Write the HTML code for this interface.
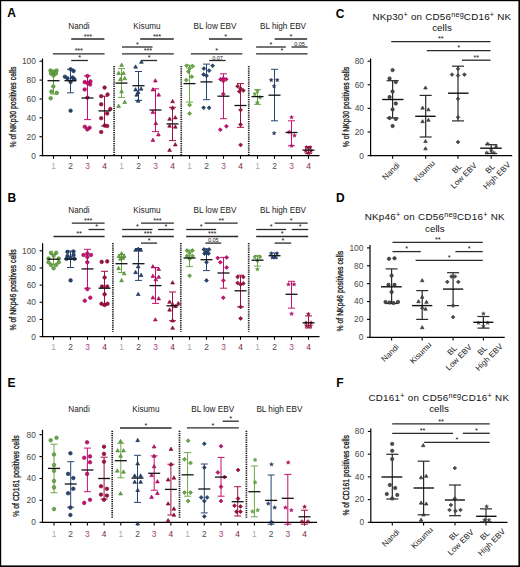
<!DOCTYPE html>
<html><head><meta charset="utf-8"><title>Figure</title>
<style>html,body{margin:0;padding:0;background:#fff;}body{width:520px;height:567px;overflow:hidden;font-family:"Liberation Sans",sans-serif;}svg{display:block;}</style>
</head><body>
<svg width="520" height="567" viewBox="0 0 520 567" font-family='"Liberation Sans", sans-serif'>
<rect x="0" y="0" width="520" height="567" fill="#fff"/>
<text x="11.65" y="17.1" font-size="12" text-anchor="middle" fill="#000" font-weight="bold">A</text>
<line x1="42.5" y1="58.5" x2="42.5" y2="156.2" stroke="#000" stroke-width="1.2"/>
<line x1="39.5" y1="155.6" x2="42.5" y2="155.6" stroke="#000" stroke-width="1.1"/>
<text x="35.9" y="158.5" font-size="8.4" text-anchor="end" fill="#4a4a4a">0</text>
<line x1="39.5" y1="136.72" x2="42.5" y2="136.72" stroke="#000" stroke-width="1.1"/>
<text x="35.9" y="139.62" font-size="8.4" text-anchor="end" fill="#4a4a4a">20</text>
<line x1="39.5" y1="117.84" x2="42.5" y2="117.84" stroke="#000" stroke-width="1.1"/>
<text x="35.9" y="120.74" font-size="8.4" text-anchor="end" fill="#4a4a4a">40</text>
<line x1="39.5" y1="98.96" x2="42.5" y2="98.96" stroke="#000" stroke-width="1.1"/>
<text x="35.9" y="101.86" font-size="8.4" text-anchor="end" fill="#4a4a4a">60</text>
<line x1="39.5" y1="80.08" x2="42.5" y2="80.08" stroke="#000" stroke-width="1.1"/>
<text x="35.9" y="82.98" font-size="8.4" text-anchor="end" fill="#4a4a4a">80</text>
<line x1="39.5" y1="61.2" x2="42.5" y2="61.2" stroke="#000" stroke-width="1.1"/>
<text x="35.9" y="64.1" font-size="8.4" text-anchor="end" fill="#4a4a4a">100</text>
<line x1="41.9" y1="155.6" x2="319.5" y2="155.6" stroke="#000" stroke-width="1.2"/>
<line x1="53.5" y1="155.6" x2="53.5" y2="158.8" stroke="#000" stroke-width="1.1"/>
<text x="53.5" y="169.4" font-size="8.4" text-anchor="middle" fill="#a8a8a8">1</text>
<line x1="70.5" y1="155.6" x2="70.5" y2="158.8" stroke="#000" stroke-width="1.1"/>
<text x="70.5" y="169.4" font-size="8.4" text-anchor="middle" fill="#4d4d55">2</text>
<line x1="87.5" y1="155.6" x2="87.5" y2="158.8" stroke="#000" stroke-width="1.1"/>
<text x="87.5" y="169.4" font-size="8.4" text-anchor="middle" fill="#a8457e">3</text>
<line x1="104.5" y1="155.6" x2="104.5" y2="158.8" stroke="#000" stroke-width="1.1"/>
<text x="104.5" y="169.4" font-size="8.4" text-anchor="middle" fill="#7e2442">4</text>
<line x1="121.5" y1="155.6" x2="121.5" y2="158.8" stroke="#000" stroke-width="1.1"/>
<text x="121.5" y="169.4" font-size="8.4" text-anchor="middle" fill="#a8a8a8">1</text>
<line x1="138.5" y1="155.6" x2="138.5" y2="158.8" stroke="#000" stroke-width="1.1"/>
<text x="138.5" y="169.4" font-size="8.4" text-anchor="middle" fill="#4d4d55">2</text>
<line x1="155.5" y1="155.6" x2="155.5" y2="158.8" stroke="#000" stroke-width="1.1"/>
<text x="155.5" y="169.4" font-size="8.4" text-anchor="middle" fill="#a8457e">3</text>
<line x1="172.5" y1="155.6" x2="172.5" y2="158.8" stroke="#000" stroke-width="1.1"/>
<text x="172.5" y="169.4" font-size="8.4" text-anchor="middle" fill="#7e2442">4</text>
<line x1="189.5" y1="155.6" x2="189.5" y2="158.8" stroke="#000" stroke-width="1.1"/>
<text x="189.5" y="169.4" font-size="8.4" text-anchor="middle" fill="#a8a8a8">1</text>
<line x1="206.5" y1="155.6" x2="206.5" y2="158.8" stroke="#000" stroke-width="1.1"/>
<text x="206.5" y="169.4" font-size="8.4" text-anchor="middle" fill="#4d4d55">2</text>
<line x1="223.5" y1="155.6" x2="223.5" y2="158.8" stroke="#000" stroke-width="1.1"/>
<text x="223.5" y="169.4" font-size="8.4" text-anchor="middle" fill="#a8457e">3</text>
<line x1="240.5" y1="155.6" x2="240.5" y2="158.8" stroke="#000" stroke-width="1.1"/>
<text x="240.5" y="169.4" font-size="8.4" text-anchor="middle" fill="#7e2442">4</text>
<line x1="257.5" y1="155.6" x2="257.5" y2="158.8" stroke="#000" stroke-width="1.1"/>
<text x="257.5" y="169.4" font-size="8.4" text-anchor="middle" fill="#a8a8a8">1</text>
<line x1="274.5" y1="155.6" x2="274.5" y2="158.8" stroke="#000" stroke-width="1.1"/>
<text x="274.5" y="169.4" font-size="8.4" text-anchor="middle" fill="#4d4d55">2</text>
<line x1="291.5" y1="155.6" x2="291.5" y2="158.8" stroke="#000" stroke-width="1.1"/>
<text x="291.5" y="169.4" font-size="8.4" text-anchor="middle" fill="#a8457e">3</text>
<line x1="308.5" y1="155.6" x2="308.5" y2="158.8" stroke="#000" stroke-width="1.1"/>
<text x="308.5" y="169.4" font-size="8.4" text-anchor="middle" fill="#7e2442">4</text>
<line x1="114.1" y1="66" x2="114.1" y2="155.2" stroke="#1a1a1a" stroke-width="1.7" stroke-dasharray="1.25,0.95"/>
<line x1="181.25" y1="66" x2="181.25" y2="155.2" stroke="#1a1a1a" stroke-width="1.7" stroke-dasharray="1.25,0.95"/>
<line x1="248.75" y1="66" x2="248.75" y2="155.2" stroke="#1a1a1a" stroke-width="1.7" stroke-dasharray="1.25,0.95"/>
<text x="79" y="28.7" font-size="8.2" text-anchor="middle" fill="#222">Nandi</text>
<text x="147" y="28.7" font-size="8.2" text-anchor="middle" fill="#222">Kisumu</text>
<text x="215" y="28.7" font-size="8.2" text-anchor="middle" fill="#222">BL low EBV</text>
<text x="283" y="28.7" font-size="8.2" text-anchor="middle" fill="#222">BL high EBV</text>
<text x="15.7" y="107.05" font-size="8.9" text-anchor="middle" fill="#1a1a1a" transform="rotate(-90 15.7 107.05)" textLength="81" lengthAdjust="spacingAndGlyphs" stroke="#1a1a1a" stroke-width="0.3">% of NKp30 positives cells</text>
<line x1="71.2" y1="39" x2="104.4" y2="39" stroke="#2a2a2a" stroke-width="1.3"/>
<text x="87.8" y="38.6" font-size="7.3" text-anchor="middle" fill="#111" letter-spacing="-0.1">***</text>
<line x1="52.9" y1="53.8" x2="104.6" y2="53.8" stroke="#2a2a2a" stroke-width="1.3"/>
<text x="78.75" y="53.4" font-size="7.3" text-anchor="middle" fill="#111" letter-spacing="-0.1">***</text>
<line x1="71.2" y1="60.5" x2="87.9" y2="60.5" stroke="#2a2a2a" stroke-width="1.3"/>
<text x="79.55" y="60.1" font-size="7.3" text-anchor="middle" fill="#111" letter-spacing="-0.1">*</text>
<line x1="140.2" y1="39" x2="173.8" y2="39" stroke="#2a2a2a" stroke-width="1.3"/>
<text x="157" y="38.6" font-size="7.3" text-anchor="middle" fill="#111" letter-spacing="-0.1">***</text>
<line x1="122" y1="47" x2="152.5" y2="47" stroke="#2a2a2a" stroke-width="1.3"/>
<text x="137.25" y="46.6" font-size="7.3" text-anchor="middle" fill="#111" letter-spacing="-0.1">*</text>
<line x1="122" y1="53.8" x2="173.8" y2="53.8" stroke="#2a2a2a" stroke-width="1.3"/>
<text x="147.9" y="53.4" font-size="7.3" text-anchor="middle" fill="#111" letter-spacing="-0.1">***</text>
<line x1="141" y1="60.5" x2="157" y2="60.5" stroke="#2a2a2a" stroke-width="1.3"/>
<text x="149" y="60.1" font-size="7.3" text-anchor="middle" fill="#111" letter-spacing="-0.1">*</text>
<line x1="209" y1="39" x2="242.3" y2="39" stroke="#2a2a2a" stroke-width="1.3"/>
<text x="225.65" y="38.6" font-size="7.3" text-anchor="middle" fill="#111" letter-spacing="-0.1">*</text>
<line x1="190.9" y1="53.8" x2="242.3" y2="53.8" stroke="#2a2a2a" stroke-width="1.3"/>
<text x="216.6" y="53.4" font-size="7.3" text-anchor="middle" fill="#111" letter-spacing="-0.1">*</text>
<line x1="209.3" y1="60.5" x2="225.7" y2="60.5" stroke="#2a2a2a" stroke-width="1.3"/>
<text x="217.5" y="59.5" font-size="5.6" text-anchor="middle" fill="#222" letter-spacing="-0.1">0.07</text>
<line x1="274.7" y1="39" x2="307.1" y2="39" stroke="#2a2a2a" stroke-width="1.3"/>
<text x="290.9" y="38.6" font-size="7.3" text-anchor="middle" fill="#111" letter-spacing="-0.1">*</text>
<line x1="256.1" y1="47" x2="285.8" y2="47" stroke="#2a2a2a" stroke-width="1.3"/>
<text x="270.95" y="46.6" font-size="7.3" text-anchor="middle" fill="#111" letter-spacing="-0.1">*</text>
<line x1="291.5" y1="47" x2="307.6" y2="47" stroke="#2a2a2a" stroke-width="1.3"/>
<text x="299.55" y="46" font-size="5.6" text-anchor="middle" fill="#222" letter-spacing="-0.1">0.05</text>
<line x1="256.1" y1="53.8" x2="307.6" y2="53.8" stroke="#2a2a2a" stroke-width="1.3"/>
<text x="281.85" y="53.4" font-size="7.3" text-anchor="middle" fill="#111" letter-spacing="-0.1">*</text>
<line x1="53.5" y1="70.6" x2="53.5" y2="94" stroke="#6ca846" stroke-width="1"/>
<line x1="50" y1="70.6" x2="57" y2="70.6" stroke="#6ca846" stroke-width="1"/>
<line x1="50" y1="94" x2="57" y2="94" stroke="#6ca846" stroke-width="1"/>
<circle cx="50.5" cy="70.5" r="1.8" fill="#6ca846" stroke="#437e2c" stroke-width="0.6"/>
<circle cx="56.5" cy="70.5" r="1.8" fill="#6ca846" stroke="#437e2c" stroke-width="0.6"/>
<circle cx="53.5" cy="71.5" r="1.8" fill="#6ca846" stroke="#437e2c" stroke-width="0.6"/>
<circle cx="51" cy="73.5" r="1.8" fill="#6ca846" stroke="#437e2c" stroke-width="0.6"/>
<circle cx="56" cy="73.5" r="1.8" fill="#6ca846" stroke="#437e2c" stroke-width="0.6"/>
<circle cx="53.5" cy="75.5" r="1.8" fill="#6ca846" stroke="#437e2c" stroke-width="0.6"/>
<circle cx="53.3" cy="86.5" r="1.8" fill="#6ca846" stroke="#437e2c" stroke-width="0.6"/>
<circle cx="51.4" cy="91.6" r="1.8" fill="#6ca846" stroke="#437e2c" stroke-width="0.6"/>
<circle cx="56.8" cy="92.9" r="1.8" fill="#6ca846" stroke="#437e2c" stroke-width="0.6"/>
<circle cx="50.7" cy="98.3" r="1.8" fill="#6ca846" stroke="#437e2c" stroke-width="0.6"/>
<line x1="47.5" y1="80.7" x2="59.5" y2="80.7" stroke="#111" stroke-width="1.3"/>
<line x1="70.5" y1="69.3" x2="70.5" y2="92.8" stroke="#284670" stroke-width="1"/>
<line x1="67" y1="69.3" x2="74" y2="69.3" stroke="#284670" stroke-width="1"/>
<line x1="67" y1="92.8" x2="74" y2="92.8" stroke="#284670" stroke-width="1"/>
<circle cx="70.6" cy="69.3" r="1.8" fill="#284670" stroke="#16284a" stroke-width="0.6"/>
<circle cx="73.6" cy="71" r="1.8" fill="#284670" stroke="#16284a" stroke-width="0.6"/>
<circle cx="64.9" cy="76.7" r="1.8" fill="#284670" stroke="#16284a" stroke-width="0.6"/>
<circle cx="67.5" cy="78.4" r="1.8" fill="#284670" stroke="#16284a" stroke-width="0.6"/>
<circle cx="72.7" cy="77.6" r="1.8" fill="#284670" stroke="#16284a" stroke-width="0.6"/>
<circle cx="74.4" cy="79.3" r="1.8" fill="#284670" stroke="#16284a" stroke-width="0.6"/>
<circle cx="70.6" cy="81.9" r="1.8" fill="#284670" stroke="#16284a" stroke-width="0.6"/>
<circle cx="70.6" cy="110.7" r="1.8" fill="#284670" stroke="#16284a" stroke-width="0.6"/>
<line x1="64.5" y1="80.7" x2="76.5" y2="80.7" stroke="#111" stroke-width="1.3"/>
<line x1="87.5" y1="75.8" x2="87.5" y2="119.6" stroke="#c90f70" stroke-width="1"/>
<line x1="84" y1="75.8" x2="91" y2="75.8" stroke="#c90f70" stroke-width="1"/>
<line x1="84" y1="119.6" x2="91" y2="119.6" stroke="#c90f70" stroke-width="1"/>
<circle cx="87.4" cy="76" r="1.8" fill="#c90f70" stroke="#8f0a50" stroke-width="0.6"/>
<circle cx="84.7" cy="82.1" r="1.8" fill="#c90f70" stroke="#8f0a50" stroke-width="0.6"/>
<circle cx="90.4" cy="81.4" r="1.8" fill="#c90f70" stroke="#8f0a50" stroke-width="0.6"/>
<circle cx="90.1" cy="84.5" r="1.8" fill="#c90f70" stroke="#8f0a50" stroke-width="0.6"/>
<circle cx="87.4" cy="83.1" r="1.8" fill="#c90f70" stroke="#8f0a50" stroke-width="0.6"/>
<circle cx="84.7" cy="89.5" r="1.8" fill="#c90f70" stroke="#8f0a50" stroke-width="0.6"/>
<circle cx="87.4" cy="97.6" r="1.8" fill="#c90f70" stroke="#8f0a50" stroke-width="0.6"/>
<circle cx="84.8" cy="126.8" r="1.8" fill="#c90f70" stroke="#8f0a50" stroke-width="0.6"/>
<circle cx="89.6" cy="127.7" r="1.8" fill="#c90f70" stroke="#8f0a50" stroke-width="0.6"/>
<circle cx="87.3" cy="129.4" r="1.8" fill="#c90f70" stroke="#8f0a50" stroke-width="0.6"/>
<line x1="81.5" y1="98" x2="93.5" y2="98" stroke="#111" stroke-width="1.3"/>
<line x1="104.5" y1="96.2" x2="104.5" y2="126" stroke="#a3103c" stroke-width="1"/>
<line x1="101" y1="96.2" x2="108" y2="96.2" stroke="#a3103c" stroke-width="1"/>
<line x1="101" y1="126" x2="108" y2="126" stroke="#a3103c" stroke-width="1"/>
<circle cx="104.6" cy="87.6" r="1.8" fill="#a3103c" stroke="#700a2a" stroke-width="0.6"/>
<circle cx="101.2" cy="96.2" r="1.8" fill="#a3103c" stroke="#700a2a" stroke-width="0.6"/>
<circle cx="107.6" cy="94.5" r="1.8" fill="#a3103c" stroke="#700a2a" stroke-width="0.6"/>
<circle cx="101.2" cy="104.3" r="1.8" fill="#a3103c" stroke="#700a2a" stroke-width="0.6"/>
<circle cx="110.3" cy="109" r="1.8" fill="#a3103c" stroke="#700a2a" stroke-width="0.6"/>
<circle cx="107.2" cy="113.5" r="1.8" fill="#a3103c" stroke="#700a2a" stroke-width="0.6"/>
<circle cx="101.2" cy="118.2" r="1.8" fill="#a3103c" stroke="#700a2a" stroke-width="0.6"/>
<circle cx="104.6" cy="125.6" r="1.8" fill="#a3103c" stroke="#700a2a" stroke-width="0.6"/>
<circle cx="107.2" cy="126" r="1.8" fill="#a3103c" stroke="#700a2a" stroke-width="0.6"/>
<circle cx="101.2" cy="132" r="1.8" fill="#a3103c" stroke="#700a2a" stroke-width="0.6"/>
<line x1="98.5" y1="110.9" x2="110.5" y2="110.9" stroke="#111" stroke-width="1.3"/>
<line x1="121.5" y1="68.6" x2="121.5" y2="97.4" stroke="#6ca846" stroke-width="1"/>
<line x1="118" y1="68.6" x2="125" y2="68.6" stroke="#6ca846" stroke-width="1"/>
<line x1="118" y1="97.4" x2="125" y2="97.4" stroke="#6ca846" stroke-width="1"/>
<polygon points="121.6,63.1 119.71,66.43 123.49,66.43" fill="#6ca846" stroke="#437e2c" stroke-width="0.6"/>
<polygon points="118.6,71.2 116.71,74.53 120.49,74.53" fill="#6ca846" stroke="#437e2c" stroke-width="0.6"/>
<polygon points="123.5,71.2 121.61,74.53 125.39,74.53" fill="#6ca846" stroke="#437e2c" stroke-width="0.6"/>
<polygon points="124.7,76.4 122.81,79.73 126.59,79.73" fill="#6ca846" stroke="#437e2c" stroke-width="0.6"/>
<polygon points="120.4,77.3 118.51,80.63 122.29,80.63" fill="#6ca846" stroke="#437e2c" stroke-width="0.6"/>
<polygon points="121.6,89.4 119.71,92.73 123.49,92.73" fill="#6ca846" stroke="#437e2c" stroke-width="0.6"/>
<polygon points="124.7,100.1 122.81,103.43 126.59,103.43" fill="#6ca846" stroke="#437e2c" stroke-width="0.6"/>
<polygon points="118.6,104.1 116.71,107.43 120.49,107.43" fill="#6ca846" stroke="#437e2c" stroke-width="0.6"/>
<line x1="115.5" y1="83.1" x2="127.5" y2="83.1" stroke="#111" stroke-width="1.3"/>
<line x1="138.5" y1="71.5" x2="138.5" y2="100.4" stroke="#284670" stroke-width="1"/>
<line x1="135" y1="71.5" x2="142" y2="71.5" stroke="#284670" stroke-width="1"/>
<line x1="135" y1="100.4" x2="142" y2="100.4" stroke="#284670" stroke-width="1"/>
<polygon points="135.6,64.8 133.71,68.13 137.49,68.13" fill="#284670" stroke="#16284a" stroke-width="0.6"/>
<polygon points="141.4,60 139.51,63.33 143.29,63.33" fill="#284670" stroke="#16284a" stroke-width="0.6"/>
<polygon points="135.6,87.6 133.71,90.93 137.49,90.93" fill="#284670" stroke="#16284a" stroke-width="0.6"/>
<polygon points="141.1,86.8 139.21,90.13 142.99,90.13" fill="#284670" stroke="#16284a" stroke-width="0.6"/>
<polygon points="138.2,90.2 136.31,93.53 140.09,93.53" fill="#284670" stroke="#16284a" stroke-width="0.6"/>
<polygon points="136.8,92.8 134.91,96.13 138.69,96.13" fill="#284670" stroke="#16284a" stroke-width="0.6"/>
<polygon points="138.2,98.9 136.31,102.23 140.09,102.23" fill="#284670" stroke="#16284a" stroke-width="0.6"/>
<line x1="132.5" y1="85.7" x2="144.5" y2="85.7" stroke="#111" stroke-width="1.3"/>
<line x1="155.5" y1="88.8" x2="155.5" y2="131.6" stroke="#c90f70" stroke-width="1"/>
<line x1="152" y1="88.8" x2="159" y2="88.8" stroke="#c90f70" stroke-width="1"/>
<line x1="152" y1="131.6" x2="159" y2="131.6" stroke="#c90f70" stroke-width="1"/>
<polygon points="155.3,78.7 153.41,82.03 157.19,82.03" fill="#c90f70" stroke="#8f0a50" stroke-width="0.6"/>
<polygon points="152.9,87.6 151.01,90.93 154.79,90.93" fill="#c90f70" stroke="#8f0a50" stroke-width="0.6"/>
<polygon points="158.7,92.8 156.81,96.13 160.59,96.13" fill="#c90f70" stroke="#8f0a50" stroke-width="0.6"/>
<polygon points="152.9,110.1 151.01,113.43 154.79,113.43" fill="#c90f70" stroke="#8f0a50" stroke-width="0.6"/>
<polygon points="155.8,121.3 153.91,124.63 157.69,124.63" fill="#c90f70" stroke="#8f0a50" stroke-width="0.6"/>
<polygon points="158.4,132.6 156.51,135.93 160.29,135.93" fill="#c90f70" stroke="#8f0a50" stroke-width="0.6"/>
<polygon points="152.9,138.1 151.01,141.43 154.79,141.43" fill="#c90f70" stroke="#8f0a50" stroke-width="0.6"/>
<line x1="149.5" y1="110" x2="161.5" y2="110" stroke="#111" stroke-width="1.3"/>
<line x1="172.5" y1="107.3" x2="172.5" y2="140.6" stroke="#a3103c" stroke-width="1"/>
<line x1="169" y1="107.3" x2="176" y2="107.3" stroke="#a3103c" stroke-width="1"/>
<line x1="169" y1="140.6" x2="176" y2="140.6" stroke="#a3103c" stroke-width="1"/>
<polygon points="172.6,99.4 170.71,102.73 174.49,102.73" fill="#a3103c" stroke="#700a2a" stroke-width="0.6"/>
<polygon points="172.6,105.8 170.71,109.13 174.49,109.13" fill="#a3103c" stroke="#700a2a" stroke-width="0.6"/>
<polygon points="169.6,117 167.71,120.33 171.49,120.33" fill="#a3103c" stroke="#700a2a" stroke-width="0.6"/>
<polygon points="175.3,115.6 173.41,118.93 177.19,118.93" fill="#a3103c" stroke="#700a2a" stroke-width="0.6"/>
<polygon points="169.6,123.9 167.71,127.23 171.49,127.23" fill="#a3103c" stroke="#700a2a" stroke-width="0.6"/>
<polygon points="175.3,124.8 173.41,128.13 177.19,128.13" fill="#a3103c" stroke="#700a2a" stroke-width="0.6"/>
<polygon points="175.3,142.6 173.41,145.93 177.19,145.93" fill="#a3103c" stroke="#700a2a" stroke-width="0.6"/>
<polygon points="169.6,148.1 167.71,151.43 171.49,151.43" fill="#a3103c" stroke="#700a2a" stroke-width="0.6"/>
<line x1="166.5" y1="123.9" x2="178.5" y2="123.9" stroke="#111" stroke-width="1.3"/>
<line x1="189.5" y1="65.1" x2="189.5" y2="102.1" stroke="#6ca846" stroke-width="1"/>
<line x1="186" y1="65.1" x2="193" y2="65.1" stroke="#6ca846" stroke-width="1"/>
<line x1="186" y1="102.1" x2="193" y2="102.1" stroke="#6ca846" stroke-width="1"/>
<polygon points="186.6,63.82 188.58,65.8 186.6,67.78 184.62,65.8" fill="#6ca846" stroke="#437e2c" stroke-width="0.6"/>
<polygon points="192.7,64.32 194.68,66.3 192.7,68.28 190.72,66.3" fill="#6ca846" stroke="#437e2c" stroke-width="0.6"/>
<polygon points="189.6,66.52 191.58,68.5 189.6,70.48 187.62,68.5" fill="#6ca846" stroke="#437e2c" stroke-width="0.6"/>
<polygon points="188.4,69.52 190.38,71.5 188.4,73.48 186.42,71.5" fill="#6ca846" stroke="#437e2c" stroke-width="0.6"/>
<polygon points="191.8,74.72 193.78,76.7 191.8,78.68 189.82,76.7" fill="#6ca846" stroke="#437e2c" stroke-width="0.6"/>
<polygon points="186.3,78.12 188.28,80.1 186.3,82.08 184.32,80.1" fill="#6ca846" stroke="#437e2c" stroke-width="0.6"/>
<polygon points="189.6,102.92 191.58,104.9 189.6,106.88 187.62,104.9" fill="#6ca846" stroke="#437e2c" stroke-width="0.6"/>
<polygon points="189.6,111.52 191.58,113.5 189.6,115.48 187.62,113.5" fill="#6ca846" stroke="#437e2c" stroke-width="0.6"/>
<line x1="183.5" y1="83.6" x2="195.5" y2="83.6" stroke="#111" stroke-width="1.3"/>
<line x1="206.5" y1="64.1" x2="206.5" y2="99.7" stroke="#284670" stroke-width="1"/>
<line x1="203" y1="64.1" x2="210" y2="64.1" stroke="#284670" stroke-width="1"/>
<line x1="203" y1="99.7" x2="210" y2="99.7" stroke="#284670" stroke-width="1"/>
<polygon points="203.9,66.62 205.88,68.6 203.9,70.58 201.92,68.6" fill="#284670" stroke="#16284a" stroke-width="0.6"/>
<polygon points="212.6,63.82 214.58,65.8 212.6,67.78 210.62,65.8" fill="#284670" stroke="#16284a" stroke-width="0.6"/>
<polygon points="209.1,68.62 211.08,70.6 209.1,72.58 207.12,70.6" fill="#284670" stroke="#16284a" stroke-width="0.6"/>
<polygon points="203.6,72.42 205.58,74.4 203.6,76.38 201.62,74.4" fill="#284670" stroke="#16284a" stroke-width="0.6"/>
<polygon points="206.5,73.82 208.48,75.8 206.5,77.78 204.52,75.8" fill="#284670" stroke="#16284a" stroke-width="0.6"/>
<polygon points="203.6,105.82 205.58,107.8 203.6,109.78 201.62,107.8" fill="#284670" stroke="#16284a" stroke-width="0.6"/>
<polygon points="209.1,105.82 211.08,107.8 209.1,109.78 207.12,107.8" fill="#284670" stroke="#16284a" stroke-width="0.6"/>
<line x1="200.5" y1="81.9" x2="212.5" y2="81.9" stroke="#111" stroke-width="1.3"/>
<line x1="223.5" y1="73.8" x2="223.5" y2="118.7" stroke="#c90f70" stroke-width="1"/>
<line x1="220" y1="73.8" x2="227" y2="73.8" stroke="#c90f70" stroke-width="1"/>
<line x1="220" y1="118.7" x2="227" y2="118.7" stroke="#c90f70" stroke-width="1"/>
<polygon points="220.5,77.32 222.48,79.3 220.5,81.28 218.52,79.3" fill="#c90f70" stroke="#8f0a50" stroke-width="0.6"/>
<polygon points="223.3,79.02 225.28,81 223.3,82.98 221.32,81" fill="#c90f70" stroke="#8f0a50" stroke-width="0.6"/>
<polygon points="226.2,77.32 228.18,79.3 226.2,81.28 224.22,79.3" fill="#c90f70" stroke="#8f0a50" stroke-width="0.6"/>
<polygon points="223.3,76.42 225.28,78.4 223.3,80.38 221.32,78.4" fill="#c90f70" stroke="#8f0a50" stroke-width="0.6"/>
<polygon points="223.3,92.02 225.28,94 223.3,95.98 221.32,94" fill="#c90f70" stroke="#8f0a50" stroke-width="0.6"/>
<polygon points="220.3,127.72 222.28,129.7 220.3,131.68 218.32,129.7" fill="#c90f70" stroke="#8f0a50" stroke-width="0.6"/>
<polygon points="226.4,124.32 228.38,126.3 226.4,128.28 224.42,126.3" fill="#c90f70" stroke="#8f0a50" stroke-width="0.6"/>
<line x1="217.5" y1="96.2" x2="229.5" y2="96.2" stroke="#111" stroke-width="1.3"/>
<line x1="240.5" y1="83.6" x2="240.5" y2="127.3" stroke="#a3103c" stroke-width="1"/>
<line x1="237" y1="83.6" x2="244" y2="83.6" stroke="#a3103c" stroke-width="1"/>
<line x1="237" y1="127.3" x2="244" y2="127.3" stroke="#a3103c" stroke-width="1"/>
<polygon points="237.6,84.22 239.58,86.2 237.6,88.18 235.62,86.2" fill="#a3103c" stroke="#700a2a" stroke-width="0.6"/>
<polygon points="240.6,86.52 242.58,88.5 240.6,90.48 238.62,88.5" fill="#a3103c" stroke="#700a2a" stroke-width="0.6"/>
<polygon points="243.3,88.52 245.28,90.5 243.3,92.48 241.32,90.5" fill="#a3103c" stroke="#700a2a" stroke-width="0.6"/>
<polygon points="239.3,89.42 241.28,91.4 239.3,93.38 237.32,91.4" fill="#a3103c" stroke="#700a2a" stroke-width="0.6"/>
<polygon points="240.6,108.02 242.58,110 240.6,111.98 238.62,110" fill="#a3103c" stroke="#700a2a" stroke-width="0.6"/>
<polygon points="240.6,122.62 242.58,124.6 240.6,126.58 238.62,124.6" fill="#a3103c" stroke="#700a2a" stroke-width="0.6"/>
<polygon points="240.6,142.92 242.58,144.9 240.6,146.88 238.62,144.9" fill="#a3103c" stroke="#700a2a" stroke-width="0.6"/>
<line x1="234.5" y1="105.5" x2="246.5" y2="105.5" stroke="#111" stroke-width="1.3"/>
<line x1="257.5" y1="89.7" x2="257.5" y2="104.3" stroke="#6ca846" stroke-width="1"/>
<line x1="254" y1="89.7" x2="261" y2="89.7" stroke="#6ca846" stroke-width="1"/>
<line x1="254" y1="104.3" x2="261" y2="104.3" stroke="#6ca846" stroke-width="1"/>
<polygon points="254.8,91.93 255.35,93.25 256.77,93.36 255.69,94.29 256.02,95.67 254.8,94.93 253.58,95.67 253.91,94.29 252.83,93.36 254.25,93.25" fill="#6ca846" stroke="#437e2c" stroke-width="0.4"/>
<polygon points="260,95.33 260.55,96.65 261.97,96.76 260.89,97.69 261.22,99.07 260,98.33 258.78,99.07 259.11,97.69 258.03,96.76 259.45,96.65" fill="#6ca846" stroke="#437e2c" stroke-width="0.4"/>
<polygon points="257.4,100.53 257.95,101.85 259.37,101.96 258.29,102.89 258.62,104.27 257.4,103.53 256.18,104.27 256.51,102.89 255.43,101.96 256.85,101.85" fill="#6ca846" stroke="#437e2c" stroke-width="0.4"/>
<polygon points="257.4,88.93 257.95,90.25 259.37,90.36 258.29,91.29 258.62,92.67 257.4,91.93 256.18,92.67 256.51,91.29 255.43,90.36 256.85,90.25" fill="#6ca846" stroke="#437e2c" stroke-width="0.4"/>
<line x1="251.5" y1="96.6" x2="263.5" y2="96.6" stroke="#111" stroke-width="1.3"/>
<line x1="274.5" y1="69.3" x2="274.5" y2="120.8" stroke="#284670" stroke-width="1"/>
<line x1="271" y1="69.3" x2="278" y2="69.3" stroke="#284670" stroke-width="1"/>
<line x1="271" y1="120.8" x2="278" y2="120.8" stroke="#284670" stroke-width="1"/>
<polygon points="271.2,78.03 271.75,79.35 273.17,79.46 272.09,80.39 272.42,81.77 271.2,81.03 269.98,81.77 270.31,80.39 269.23,79.46 270.65,79.35" fill="#284670" stroke="#16284a" stroke-width="0.4"/>
<polygon points="277.2,78.03 277.75,79.35 279.17,79.46 278.09,80.39 278.42,81.77 277.2,81.03 275.98,81.77 276.31,80.39 275.23,79.46 276.65,79.35" fill="#284670" stroke="#16284a" stroke-width="0.4"/>
<polygon points="274.1,84.13 274.65,85.45 276.07,85.56 274.99,86.49 275.32,87.87 274.1,87.13 272.88,87.87 273.21,86.49 272.13,85.56 273.55,85.45" fill="#284670" stroke="#16284a" stroke-width="0.4"/>
<polygon points="274.1,131.13 274.65,132.45 276.07,132.56 274.99,133.49 275.32,134.87 274.1,134.13 272.88,134.87 273.21,133.49 272.13,132.56 273.55,132.45" fill="#284670" stroke="#16284a" stroke-width="0.4"/>
<line x1="268.5" y1="95.2" x2="280.5" y2="95.2" stroke="#111" stroke-width="1.3"/>
<line x1="291.5" y1="120.8" x2="291.5" y2="145.8" stroke="#c90f70" stroke-width="1"/>
<line x1="288" y1="120.8" x2="295" y2="120.8" stroke="#c90f70" stroke-width="1"/>
<line x1="288" y1="145.8" x2="295" y2="145.8" stroke="#c90f70" stroke-width="1"/>
<polygon points="291.6,115.23 292.15,116.55 293.57,116.66 292.49,117.59 292.82,118.97 291.6,118.23 290.38,118.97 290.71,117.59 289.63,116.66 291.05,116.55" fill="#c90f70" stroke="#8f0a50" stroke-width="0.4"/>
<polygon points="289.3,129.93 289.85,131.25 291.27,131.36 290.19,132.29 290.52,133.67 289.3,132.93 288.08,133.67 288.41,132.29 287.33,131.36 288.75,131.25" fill="#c90f70" stroke="#8f0a50" stroke-width="0.4"/>
<polygon points="294.5,133.43 295.05,134.75 296.47,134.86 295.39,135.79 295.72,137.17 294.5,136.43 293.28,137.17 293.61,135.79 292.53,134.86 293.95,134.75" fill="#c90f70" stroke="#8f0a50" stroke-width="0.4"/>
<polygon points="291.6,143.73 292.15,145.05 293.57,145.16 292.49,146.09 292.82,147.47 291.6,146.73 290.38,147.47 290.71,146.09 289.63,145.16 291.05,145.05" fill="#c90f70" stroke="#8f0a50" stroke-width="0.4"/>
<line x1="285.5" y1="132.5" x2="297.5" y2="132.5" stroke="#111" stroke-width="1.3"/>
<line x1="308.5" y1="146.7" x2="308.5" y2="153.6" stroke="#a3103c" stroke-width="1"/>
<line x1="305" y1="146.7" x2="312" y2="146.7" stroke="#a3103c" stroke-width="1"/>
<line x1="305" y1="153.6" x2="312" y2="153.6" stroke="#a3103c" stroke-width="1"/>
<polygon points="306.6,145.43 307.15,146.75 308.57,146.86 307.49,147.79 307.82,149.17 306.6,148.43 305.38,149.17 305.71,147.79 304.63,146.86 306.05,146.75" fill="#a3103c" stroke="#700a2a" stroke-width="0.4"/>
<polygon points="310,145.43 310.55,146.75 311.97,146.86 310.89,147.79 311.22,149.17 310,148.43 308.78,149.17 309.11,147.79 308.03,146.86 309.45,146.75" fill="#a3103c" stroke="#700a2a" stroke-width="0.4"/>
<polygon points="305.8,148.93 306.35,150.25 307.77,150.36 306.69,151.29 307.02,152.67 305.8,151.93 304.58,152.67 304.91,151.29 303.83,150.36 305.25,150.25" fill="#a3103c" stroke="#700a2a" stroke-width="0.4"/>
<polygon points="311,148.93 311.55,150.25 312.97,150.36 311.89,151.29 312.22,152.67 311,151.93 309.78,152.67 310.11,151.29 309.03,150.36 310.45,150.25" fill="#a3103c" stroke="#700a2a" stroke-width="0.4"/>
<polygon points="308.4,150.93 308.95,152.25 310.37,152.36 309.29,153.29 309.62,154.67 308.4,153.93 307.18,154.67 307.51,153.29 306.43,152.36 307.85,152.25" fill="#a3103c" stroke="#700a2a" stroke-width="0.4"/>
<line x1="302.5" y1="150.1" x2="314.5" y2="150.1" stroke="#111" stroke-width="1.3"/>
<text x="11.95" y="202.1" font-size="12" text-anchor="middle" fill="#000" font-weight="bold">B</text>
<line x1="42.6" y1="243.2" x2="42.6" y2="337.2" stroke="#000" stroke-width="1.2"/>
<line x1="39.6" y1="336.6" x2="42.6" y2="336.6" stroke="#000" stroke-width="1.1"/>
<text x="36" y="339.5" font-size="8.4" text-anchor="end" fill="#4a4a4a">0</text>
<line x1="39.6" y1="319.44" x2="42.6" y2="319.44" stroke="#000" stroke-width="1.1"/>
<text x="36" y="322.34" font-size="8.4" text-anchor="end" fill="#4a4a4a">20</text>
<line x1="39.6" y1="302.28" x2="42.6" y2="302.28" stroke="#000" stroke-width="1.1"/>
<text x="36" y="305.18" font-size="8.4" text-anchor="end" fill="#4a4a4a">40</text>
<line x1="39.6" y1="285.12" x2="42.6" y2="285.12" stroke="#000" stroke-width="1.1"/>
<text x="36" y="288.02" font-size="8.4" text-anchor="end" fill="#4a4a4a">60</text>
<line x1="39.6" y1="267.96" x2="42.6" y2="267.96" stroke="#000" stroke-width="1.1"/>
<text x="36" y="270.86" font-size="8.4" text-anchor="end" fill="#4a4a4a">80</text>
<line x1="39.6" y1="250.8" x2="42.6" y2="250.8" stroke="#000" stroke-width="1.1"/>
<text x="36" y="253.7" font-size="8.4" text-anchor="end" fill="#4a4a4a">100</text>
<line x1="42" y1="336.6" x2="319.5" y2="336.6" stroke="#000" stroke-width="1.2"/>
<line x1="53.5" y1="336.6" x2="53.5" y2="339.8" stroke="#000" stroke-width="1.1"/>
<text x="53.5" y="350.4" font-size="8.4" text-anchor="middle" fill="#a8a8a8">1</text>
<line x1="70.5" y1="336.6" x2="70.5" y2="339.8" stroke="#000" stroke-width="1.1"/>
<text x="70.5" y="350.4" font-size="8.4" text-anchor="middle" fill="#4d4d55">2</text>
<line x1="87.5" y1="336.6" x2="87.5" y2="339.8" stroke="#000" stroke-width="1.1"/>
<text x="87.5" y="350.4" font-size="8.4" text-anchor="middle" fill="#a8457e">3</text>
<line x1="104.5" y1="336.6" x2="104.5" y2="339.8" stroke="#000" stroke-width="1.1"/>
<text x="104.5" y="350.4" font-size="8.4" text-anchor="middle" fill="#7e2442">4</text>
<line x1="121.5" y1="336.6" x2="121.5" y2="339.8" stroke="#000" stroke-width="1.1"/>
<text x="121.5" y="350.4" font-size="8.4" text-anchor="middle" fill="#a8a8a8">1</text>
<line x1="138.5" y1="336.6" x2="138.5" y2="339.8" stroke="#000" stroke-width="1.1"/>
<text x="138.5" y="350.4" font-size="8.4" text-anchor="middle" fill="#4d4d55">2</text>
<line x1="155.5" y1="336.6" x2="155.5" y2="339.8" stroke="#000" stroke-width="1.1"/>
<text x="155.5" y="350.4" font-size="8.4" text-anchor="middle" fill="#a8457e">3</text>
<line x1="172.5" y1="336.6" x2="172.5" y2="339.8" stroke="#000" stroke-width="1.1"/>
<text x="172.5" y="350.4" font-size="8.4" text-anchor="middle" fill="#7e2442">4</text>
<line x1="189.5" y1="336.6" x2="189.5" y2="339.8" stroke="#000" stroke-width="1.1"/>
<text x="189.5" y="350.4" font-size="8.4" text-anchor="middle" fill="#a8a8a8">1</text>
<line x1="206.5" y1="336.6" x2="206.5" y2="339.8" stroke="#000" stroke-width="1.1"/>
<text x="206.5" y="350.4" font-size="8.4" text-anchor="middle" fill="#4d4d55">2</text>
<line x1="223.5" y1="336.6" x2="223.5" y2="339.8" stroke="#000" stroke-width="1.1"/>
<text x="223.5" y="350.4" font-size="8.4" text-anchor="middle" fill="#a8457e">3</text>
<line x1="240.5" y1="336.6" x2="240.5" y2="339.8" stroke="#000" stroke-width="1.1"/>
<text x="240.5" y="350.4" font-size="8.4" text-anchor="middle" fill="#7e2442">4</text>
<line x1="257.5" y1="336.6" x2="257.5" y2="339.8" stroke="#000" stroke-width="1.1"/>
<text x="257.5" y="350.4" font-size="8.4" text-anchor="middle" fill="#a8a8a8">1</text>
<line x1="274.5" y1="336.6" x2="274.5" y2="339.8" stroke="#000" stroke-width="1.1"/>
<text x="274.5" y="350.4" font-size="8.4" text-anchor="middle" fill="#4d4d55">2</text>
<line x1="291.5" y1="336.6" x2="291.5" y2="339.8" stroke="#000" stroke-width="1.1"/>
<text x="291.5" y="350.4" font-size="8.4" text-anchor="middle" fill="#a8457e">3</text>
<line x1="308.5" y1="336.6" x2="308.5" y2="339.8" stroke="#000" stroke-width="1.1"/>
<text x="308.5" y="350.4" font-size="8.4" text-anchor="middle" fill="#7e2442">4</text>
<line x1="112.9" y1="243" x2="112.9" y2="331.8" stroke="#1a1a1a" stroke-width="1.7" stroke-dasharray="1.25,0.95"/>
<line x1="180.8" y1="243" x2="180.8" y2="331.8" stroke="#1a1a1a" stroke-width="1.7" stroke-dasharray="1.25,0.95"/>
<line x1="248.7" y1="243" x2="248.7" y2="331.8" stroke="#1a1a1a" stroke-width="1.7" stroke-dasharray="1.25,0.95"/>
<text x="79" y="212.9" font-size="8.2" text-anchor="middle" fill="#222">Nandi</text>
<text x="147" y="212.9" font-size="8.2" text-anchor="middle" fill="#222">Kisumu</text>
<text x="215" y="212.9" font-size="8.2" text-anchor="middle" fill="#222">BL low EBV</text>
<text x="283" y="212.9" font-size="8.2" text-anchor="middle" fill="#222">BL high EBV</text>
<text x="15.7" y="289.9" font-size="8.9" text-anchor="middle" fill="#1a1a1a" transform="rotate(-90 15.7 289.9)" textLength="81.3" lengthAdjust="spacingAndGlyphs" stroke="#1a1a1a" stroke-width="0.3">% of NKp46 positives cells</text>
<line x1="71.8" y1="223.1" x2="104.6" y2="223.1" stroke="#2a2a2a" stroke-width="1.3"/>
<text x="88.2" y="222.7" font-size="7.3" text-anchor="middle" fill="#111" letter-spacing="-0.1">***</text>
<line x1="88.5" y1="229.5" x2="104.6" y2="229.5" stroke="#2a2a2a" stroke-width="1.3"/>
<text x="96.55" y="229.1" font-size="7.3" text-anchor="middle" fill="#111" letter-spacing="-0.1">*</text>
<line x1="53.5" y1="236.5" x2="104.6" y2="236.5" stroke="#2a2a2a" stroke-width="1.3"/>
<text x="79.05" y="236.1" font-size="7.3" text-anchor="middle" fill="#111" letter-spacing="-0.1">**</text>
<line x1="141" y1="223.1" x2="173.8" y2="223.1" stroke="#2a2a2a" stroke-width="1.3"/>
<text x="157.4" y="222.7" font-size="7.3" text-anchor="middle" fill="#111" letter-spacing="-0.1">***</text>
<line x1="122.1" y1="229.5" x2="152.5" y2="229.5" stroke="#2a2a2a" stroke-width="1.3"/>
<text x="137.3" y="229.1" font-size="7.3" text-anchor="middle" fill="#111" letter-spacing="-0.1">*</text>
<line x1="158" y1="229.5" x2="173.8" y2="229.5" stroke="#2a2a2a" stroke-width="1.3"/>
<text x="165.9" y="229.1" font-size="7.3" text-anchor="middle" fill="#111" letter-spacing="-0.1">*</text>
<line x1="122.1" y1="236.5" x2="173.8" y2="236.5" stroke="#2a2a2a" stroke-width="1.3"/>
<text x="147.95" y="236.1" font-size="7.3" text-anchor="middle" fill="#111" letter-spacing="-0.1">***</text>
<line x1="141" y1="243.1" x2="157.1" y2="243.1" stroke="#2a2a2a" stroke-width="1.3"/>
<text x="149.05" y="242.7" font-size="7.3" text-anchor="middle" fill="#111" letter-spacing="-0.1">*</text>
<line x1="204.6" y1="223.1" x2="237.7" y2="223.1" stroke="#2a2a2a" stroke-width="1.3"/>
<text x="221.15" y="222.7" font-size="7.3" text-anchor="middle" fill="#111" letter-spacing="-0.1">**</text>
<line x1="186.2" y1="229.5" x2="216.2" y2="229.5" stroke="#2a2a2a" stroke-width="1.3"/>
<text x="201.2" y="229.1" font-size="7.3" text-anchor="middle" fill="#111" letter-spacing="-0.1">*</text>
<line x1="186.2" y1="236.5" x2="238.2" y2="236.5" stroke="#2a2a2a" stroke-width="1.3"/>
<text x="212.2" y="236.1" font-size="7.3" text-anchor="middle" fill="#111" letter-spacing="-0.1">***</text>
<line x1="205.4" y1="243.1" x2="221.2" y2="243.1" stroke="#2a2a2a" stroke-width="1.3"/>
<text x="213.3" y="242.1" font-size="5.6" text-anchor="middle" fill="#222" letter-spacing="-0.1">0.05</text>
<line x1="274.6" y1="223.1" x2="307.7" y2="223.1" stroke="#2a2a2a" stroke-width="1.3"/>
<text x="291.15" y="222.7" font-size="7.3" text-anchor="middle" fill="#111" letter-spacing="-0.1">*</text>
<line x1="256.2" y1="229.5" x2="286.2" y2="229.5" stroke="#2a2a2a" stroke-width="1.3"/>
<text x="271.2" y="229.1" font-size="7.3" text-anchor="middle" fill="#111" letter-spacing="-0.1">*</text>
<line x1="291.8" y1="229.5" x2="308.2" y2="229.5" stroke="#2a2a2a" stroke-width="1.3"/>
<text x="300" y="229.1" font-size="7.3" text-anchor="middle" fill="#111" letter-spacing="-0.1">*</text>
<line x1="256.2" y1="236.5" x2="308.2" y2="236.5" stroke="#2a2a2a" stroke-width="1.3"/>
<text x="282.2" y="236.1" font-size="7.3" text-anchor="middle" fill="#111" letter-spacing="-0.1">*</text>
<line x1="274.6" y1="243.1" x2="291.2" y2="243.1" stroke="#2a2a2a" stroke-width="1.3"/>
<text x="282.9" y="242.7" font-size="7.3" text-anchor="middle" fill="#111" letter-spacing="-0.1">*</text>
<line x1="53.5" y1="254.5" x2="53.5" y2="264.9" stroke="#6ca846" stroke-width="1"/>
<line x1="50" y1="254.5" x2="57" y2="254.5" stroke="#6ca846" stroke-width="1"/>
<line x1="50" y1="264.9" x2="57" y2="264.9" stroke="#6ca846" stroke-width="1"/>
<circle cx="51" cy="252.8" r="1.8" fill="#6ca846" stroke="#437e2c" stroke-width="0.6"/>
<circle cx="56.2" cy="252.8" r="1.8" fill="#6ca846" stroke="#437e2c" stroke-width="0.6"/>
<circle cx="48.5" cy="258.5" r="1.8" fill="#6ca846" stroke="#437e2c" stroke-width="0.6"/>
<circle cx="58.8" cy="258.5" r="1.8" fill="#6ca846" stroke="#437e2c" stroke-width="0.6"/>
<circle cx="48.5" cy="262.3" r="1.8" fill="#6ca846" stroke="#437e2c" stroke-width="0.6"/>
<circle cx="58.8" cy="262.3" r="1.8" fill="#6ca846" stroke="#437e2c" stroke-width="0.6"/>
<circle cx="53.6" cy="255.7" r="1.8" fill="#6ca846" stroke="#437e2c" stroke-width="0.6"/>
<circle cx="51" cy="264.9" r="1.8" fill="#6ca846" stroke="#437e2c" stroke-width="0.6"/>
<circle cx="56.2" cy="264.9" r="1.8" fill="#6ca846" stroke="#437e2c" stroke-width="0.6"/>
<circle cx="53.6" cy="268.3" r="1.8" fill="#6ca846" stroke="#437e2c" stroke-width="0.6"/>
<line x1="47.5" y1="259.2" x2="59.5" y2="259.2" stroke="#111" stroke-width="1.3"/>
<line x1="70.5" y1="251" x2="70.5" y2="267.5" stroke="#284670" stroke-width="1"/>
<line x1="67" y1="251" x2="74" y2="251" stroke="#284670" stroke-width="1"/>
<line x1="67" y1="267.5" x2="74" y2="267.5" stroke="#284670" stroke-width="1"/>
<circle cx="67.5" cy="251.9" r="1.8" fill="#284670" stroke="#16284a" stroke-width="0.6"/>
<circle cx="73.5" cy="251.5" r="1.8" fill="#284670" stroke="#16284a" stroke-width="0.6"/>
<circle cx="67.5" cy="256" r="1.8" fill="#284670" stroke="#16284a" stroke-width="0.6"/>
<circle cx="73.5" cy="255" r="1.8" fill="#284670" stroke="#16284a" stroke-width="0.6"/>
<circle cx="70.6" cy="258" r="1.8" fill="#284670" stroke="#16284a" stroke-width="0.6"/>
<circle cx="66.5" cy="258.8" r="1.8" fill="#284670" stroke="#16284a" stroke-width="0.6"/>
<circle cx="74.5" cy="258.8" r="1.8" fill="#284670" stroke="#16284a" stroke-width="0.6"/>
<circle cx="70.6" cy="280.4" r="1.8" fill="#284670" stroke="#16284a" stroke-width="0.6"/>
<line x1="64.5" y1="259.2" x2="76.5" y2="259.2" stroke="#111" stroke-width="1.3"/>
<line x1="87.5" y1="249.3" x2="87.5" y2="288.2" stroke="#c90f70" stroke-width="1"/>
<line x1="84" y1="249.3" x2="91" y2="249.3" stroke="#c90f70" stroke-width="1"/>
<line x1="84" y1="288.2" x2="91" y2="288.2" stroke="#c90f70" stroke-width="1"/>
<circle cx="83.5" cy="255" r="1.8" fill="#c90f70" stroke="#8f0a50" stroke-width="0.6"/>
<circle cx="87.3" cy="253.5" r="1.8" fill="#c90f70" stroke="#8f0a50" stroke-width="0.6"/>
<circle cx="91" cy="255" r="1.8" fill="#c90f70" stroke="#8f0a50" stroke-width="0.6"/>
<circle cx="87.3" cy="257" r="1.8" fill="#c90f70" stroke="#8f0a50" stroke-width="0.6"/>
<circle cx="87.3" cy="262.3" r="1.8" fill="#c90f70" stroke="#8f0a50" stroke-width="0.6"/>
<circle cx="87.3" cy="289.1" r="1.8" fill="#c90f70" stroke="#8f0a50" stroke-width="0.6"/>
<circle cx="84.8" cy="300.7" r="1.8" fill="#c90f70" stroke="#8f0a50" stroke-width="0.6"/>
<circle cx="90.3" cy="297.7" r="1.8" fill="#c90f70" stroke="#8f0a50" stroke-width="0.6"/>
<line x1="81.5" y1="268.9" x2="93.5" y2="268.9" stroke="#111" stroke-width="1.3"/>
<line x1="104.5" y1="271.3" x2="104.5" y2="304.6" stroke="#a3103c" stroke-width="1"/>
<line x1="101" y1="271.3" x2="108" y2="271.3" stroke="#a3103c" stroke-width="1"/>
<line x1="101" y1="304.6" x2="108" y2="304.6" stroke="#a3103c" stroke-width="1"/>
<circle cx="101.7" cy="261.9" r="1.8" fill="#a3103c" stroke="#700a2a" stroke-width="0.6"/>
<circle cx="107.2" cy="261.4" r="1.8" fill="#a3103c" stroke="#700a2a" stroke-width="0.6"/>
<circle cx="104.6" cy="277.5" r="1.8" fill="#a3103c" stroke="#700a2a" stroke-width="0.6"/>
<circle cx="102" cy="286.5" r="1.8" fill="#a3103c" stroke="#700a2a" stroke-width="0.6"/>
<circle cx="107.2" cy="286.5" r="1.8" fill="#a3103c" stroke="#700a2a" stroke-width="0.6"/>
<circle cx="104.6" cy="294.3" r="1.8" fill="#a3103c" stroke="#700a2a" stroke-width="0.6"/>
<circle cx="101.5" cy="303.8" r="1.8" fill="#a3103c" stroke="#700a2a" stroke-width="0.6"/>
<circle cx="107.5" cy="303.8" r="1.8" fill="#a3103c" stroke="#700a2a" stroke-width="0.6"/>
<circle cx="104.6" cy="305" r="1.8" fill="#a3103c" stroke="#700a2a" stroke-width="0.6"/>
<line x1="98.5" y1="288.2" x2="110.5" y2="288.2" stroke="#111" stroke-width="1.3"/>
<line x1="121.5" y1="254.5" x2="121.5" y2="272.6" stroke="#6ca846" stroke-width="1"/>
<line x1="118" y1="254.5" x2="125" y2="254.5" stroke="#6ca846" stroke-width="1"/>
<line x1="118" y1="272.6" x2="125" y2="272.6" stroke="#6ca846" stroke-width="1"/>
<polygon points="121.6,251.6 119.71,254.93 123.49,254.93" fill="#6ca846" stroke="#437e2c" stroke-width="0.6"/>
<polygon points="119,254.2 117.11,257.53 120.89,257.53" fill="#6ca846" stroke="#437e2c" stroke-width="0.6"/>
<polygon points="124.2,254.2 122.31,257.53 126.09,257.53" fill="#6ca846" stroke="#437e2c" stroke-width="0.6"/>
<polygon points="120.4,256.8 118.51,260.13 122.29,260.13" fill="#6ca846" stroke="#437e2c" stroke-width="0.6"/>
<polygon points="123,256 121.11,259.33 124.89,259.33" fill="#6ca846" stroke="#437e2c" stroke-width="0.6"/>
<polygon points="118.6,266.3 116.71,269.63 120.49,269.63" fill="#6ca846" stroke="#437e2c" stroke-width="0.6"/>
<polygon points="124.2,271.5 122.31,274.83 126.09,274.83" fill="#6ca846" stroke="#437e2c" stroke-width="0.6"/>
<polygon points="121.6,278.4 119.71,281.73 123.49,281.73" fill="#6ca846" stroke="#437e2c" stroke-width="0.6"/>
<line x1="115.5" y1="263.7" x2="127.5" y2="263.7" stroke="#111" stroke-width="1.3"/>
<line x1="138.5" y1="248.5" x2="138.5" y2="280.4" stroke="#284670" stroke-width="1"/>
<line x1="135" y1="248.5" x2="142" y2="248.5" stroke="#284670" stroke-width="1"/>
<line x1="135" y1="280.4" x2="142" y2="280.4" stroke="#284670" stroke-width="1"/>
<polygon points="135.6,248 133.71,251.33 137.49,251.33" fill="#284670" stroke="#16284a" stroke-width="0.6"/>
<polygon points="140.8,248 138.91,251.33 142.69,251.33" fill="#284670" stroke="#16284a" stroke-width="0.6"/>
<polygon points="138.2,247 136.31,250.33 140.09,250.33" fill="#284670" stroke="#16284a" stroke-width="0.6"/>
<polygon points="138.2,264.6 136.31,267.93 140.09,267.93" fill="#284670" stroke="#16284a" stroke-width="0.6"/>
<polygon points="135.6,270.3 133.71,273.63 137.49,273.63" fill="#284670" stroke="#16284a" stroke-width="0.6"/>
<polygon points="141.1,273.2 139.21,276.53 142.99,276.53" fill="#284670" stroke="#16284a" stroke-width="0.6"/>
<polygon points="138.2,292.2 136.31,295.53 140.09,295.53" fill="#284670" stroke="#16284a" stroke-width="0.6"/>
<line x1="132.5" y1="263.7" x2="144.5" y2="263.7" stroke="#111" stroke-width="1.3"/>
<line x1="155.5" y1="267.5" x2="155.5" y2="303.4" stroke="#c90f70" stroke-width="1"/>
<line x1="152" y1="267.5" x2="159" y2="267.5" stroke="#c90f70" stroke-width="1"/>
<line x1="152" y1="303.4" x2="159" y2="303.4" stroke="#c90f70" stroke-width="1"/>
<polygon points="152.9,264.6 151.01,267.93 154.79,267.93" fill="#c90f70" stroke="#8f0a50" stroke-width="0.6"/>
<polygon points="158.7,267.2 156.81,270.53 160.59,270.53" fill="#c90f70" stroke="#8f0a50" stroke-width="0.6"/>
<polygon points="152.9,274.1 151.01,277.43 154.79,277.43" fill="#c90f70" stroke="#8f0a50" stroke-width="0.6"/>
<polygon points="158.7,275 156.81,278.33 160.59,278.33" fill="#c90f70" stroke="#8f0a50" stroke-width="0.6"/>
<polygon points="155.8,277.5 153.91,280.83 157.69,280.83" fill="#c90f70" stroke="#8f0a50" stroke-width="0.6"/>
<polygon points="152.9,295.7 151.01,299.03 154.79,299.03" fill="#c90f70" stroke="#8f0a50" stroke-width="0.6"/>
<polygon points="158.7,296.6 156.81,299.93 160.59,299.93" fill="#c90f70" stroke="#8f0a50" stroke-width="0.6"/>
<polygon points="155.3,317.7 153.41,321.03 157.19,321.03" fill="#c90f70" stroke="#8f0a50" stroke-width="0.6"/>
<line x1="149.5" y1="285.6" x2="161.5" y2="285.6" stroke="#111" stroke-width="1.3"/>
<line x1="172.5" y1="292" x2="172.5" y2="320.7" stroke="#a3103c" stroke-width="1"/>
<line x1="169" y1="292" x2="176" y2="292" stroke="#a3103c" stroke-width="1"/>
<line x1="169" y1="320.7" x2="176" y2="320.7" stroke="#a3103c" stroke-width="1"/>
<polygon points="172.6,280.7 170.71,284.03 174.49,284.03" fill="#a3103c" stroke="#700a2a" stroke-width="0.6"/>
<polygon points="169.6,300 167.71,303.33 171.49,303.33" fill="#a3103c" stroke="#700a2a" stroke-width="0.6"/>
<polygon points="172.6,302.5 170.71,305.83 174.49,305.83" fill="#a3103c" stroke="#700a2a" stroke-width="0.6"/>
<polygon points="175.3,304.3 173.41,307.63 177.19,307.63" fill="#a3103c" stroke="#700a2a" stroke-width="0.6"/>
<polygon points="178.3,301.4 176.41,304.73 180.19,304.73" fill="#a3103c" stroke="#700a2a" stroke-width="0.6"/>
<polygon points="169.6,307.8 167.71,311.13 171.49,311.13" fill="#a3103c" stroke="#700a2a" stroke-width="0.6"/>
<polygon points="172.6,318.7 170.71,322.03 174.49,322.03" fill="#a3103c" stroke="#700a2a" stroke-width="0.6"/>
<polygon points="172.6,326 170.71,329.33 174.49,329.33" fill="#a3103c" stroke="#700a2a" stroke-width="0.6"/>
<line x1="166.5" y1="305.8" x2="178.5" y2="305.8" stroke="#111" stroke-width="1.3"/>
<line x1="189.5" y1="250.2" x2="189.5" y2="266.6" stroke="#6ca846" stroke-width="1"/>
<line x1="186" y1="250.2" x2="193" y2="250.2" stroke="#6ca846" stroke-width="1"/>
<line x1="186" y1="266.6" x2="193" y2="266.6" stroke="#6ca846" stroke-width="1"/>
<polygon points="187,248.52 188.98,250.5 187,252.48 185.02,250.5" fill="#6ca846" stroke="#437e2c" stroke-width="0.6"/>
<polygon points="192.5,248.52 194.48,250.5 192.5,252.48 190.52,250.5" fill="#6ca846" stroke="#437e2c" stroke-width="0.6"/>
<polygon points="189.6,251.02 191.58,253 189.6,254.98 187.62,253" fill="#6ca846" stroke="#437e2c" stroke-width="0.6"/>
<polygon points="187,254.02 188.98,256 187,257.98 185.02,256" fill="#6ca846" stroke="#437e2c" stroke-width="0.6"/>
<polygon points="192.5,254.02 194.48,256 192.5,257.98 190.52,256" fill="#6ca846" stroke="#437e2c" stroke-width="0.6"/>
<polygon points="189.6,256.82 191.58,258.8 189.6,260.78 187.62,258.8" fill="#6ca846" stroke="#437e2c" stroke-width="0.6"/>
<polygon points="189.6,273.82 191.58,275.8 189.6,277.78 187.62,275.8" fill="#6ca846" stroke="#437e2c" stroke-width="0.6"/>
<line x1="183.5" y1="258" x2="195.5" y2="258" stroke="#111" stroke-width="1.3"/>
<line x1="206.5" y1="248.8" x2="206.5" y2="270.6" stroke="#284670" stroke-width="1"/>
<line x1="203" y1="248.8" x2="210" y2="248.8" stroke="#284670" stroke-width="1"/>
<line x1="203" y1="270.6" x2="210" y2="270.6" stroke="#284670" stroke-width="1"/>
<polygon points="203.9,247.52 205.88,249.5 203.9,251.48 201.92,249.5" fill="#284670" stroke="#16284a" stroke-width="0.6"/>
<polygon points="209.1,247.52 211.08,249.5 209.1,251.48 207.12,249.5" fill="#284670" stroke="#16284a" stroke-width="0.6"/>
<polygon points="206.5,249.52 208.48,251.5 206.5,253.48 204.52,251.5" fill="#284670" stroke="#16284a" stroke-width="0.6"/>
<polygon points="204.5,251.52 206.48,253.5 204.5,255.48 202.52,253.5" fill="#284670" stroke="#16284a" stroke-width="0.6"/>
<polygon points="208.5,251.52 210.48,253.5 208.5,255.48 206.52,253.5" fill="#284670" stroke="#16284a" stroke-width="0.6"/>
<polygon points="206.5,260.32 208.48,262.3 206.5,264.28 204.52,262.3" fill="#284670" stroke="#16284a" stroke-width="0.6"/>
<polygon points="206.5,278.42 208.48,280.4 206.5,282.38 204.52,280.4" fill="#284670" stroke="#16284a" stroke-width="0.6"/>
<line x1="200.5" y1="259.7" x2="212.5" y2="259.7" stroke="#111" stroke-width="1.3"/>
<line x1="223.5" y1="257.4" x2="223.5" y2="288.2" stroke="#c90f70" stroke-width="1"/>
<line x1="220" y1="257.4" x2="227" y2="257.4" stroke="#c90f70" stroke-width="1"/>
<line x1="220" y1="288.2" x2="227" y2="288.2" stroke="#c90f70" stroke-width="1"/>
<polygon points="217.7,256.02 219.68,258 217.7,259.98 215.72,258" fill="#c90f70" stroke="#8f0a50" stroke-width="0.6"/>
<polygon points="226.7,255.42 228.68,257.4 226.7,259.38 224.72,257.4" fill="#c90f70" stroke="#8f0a50" stroke-width="0.6"/>
<polygon points="220.3,260.32 222.28,262.3 220.3,264.28 218.32,262.3" fill="#c90f70" stroke="#8f0a50" stroke-width="0.6"/>
<polygon points="226.7,265.52 228.68,267.5 226.7,269.48 224.72,267.5" fill="#c90f70" stroke="#8f0a50" stroke-width="0.6"/>
<polygon points="223.3,278.42 225.28,280.4 223.3,282.38 221.32,280.4" fill="#c90f70" stroke="#8f0a50" stroke-width="0.6"/>
<polygon points="223.3,295.72 225.28,297.7 223.3,299.68 221.32,297.7" fill="#c90f70" stroke="#8f0a50" stroke-width="0.6"/>
<line x1="217.5" y1="273" x2="229.5" y2="273" stroke="#111" stroke-width="1.3"/>
<line x1="240.5" y1="275.2" x2="240.5" y2="306.9" stroke="#a3103c" stroke-width="1"/>
<line x1="237" y1="275.2" x2="244" y2="275.2" stroke="#a3103c" stroke-width="1"/>
<line x1="237" y1="306.9" x2="244" y2="306.9" stroke="#a3103c" stroke-width="1"/>
<polygon points="237.6,275.02 239.58,277 237.6,278.98 235.62,277" fill="#a3103c" stroke="#700a2a" stroke-width="0.6"/>
<polygon points="243.3,275.02 245.28,277 243.3,278.98 241.32,277" fill="#a3103c" stroke="#700a2a" stroke-width="0.6"/>
<polygon points="237.6,281.02 239.58,283 237.6,284.98 235.62,283" fill="#a3103c" stroke="#700a2a" stroke-width="0.6"/>
<polygon points="243.3,281.42 245.28,283.4 243.3,285.38 241.32,283.4" fill="#a3103c" stroke="#700a2a" stroke-width="0.6"/>
<polygon points="240.6,282.52 242.58,284.5 240.6,286.48 238.62,284.5" fill="#a3103c" stroke="#700a2a" stroke-width="0.6"/>
<polygon points="240.6,304.92 242.58,306.9 240.6,308.88 238.62,306.9" fill="#a3103c" stroke="#700a2a" stroke-width="0.6"/>
<polygon points="240.6,316.42 242.58,318.4 240.6,320.38 238.62,318.4" fill="#a3103c" stroke="#700a2a" stroke-width="0.6"/>
<line x1="234.5" y1="290.8" x2="246.5" y2="290.8" stroke="#111" stroke-width="1.3"/>
<line x1="257.5" y1="255.4" x2="257.5" y2="266.1" stroke="#6ca846" stroke-width="1"/>
<line x1="254" y1="255.4" x2="261" y2="255.4" stroke="#6ca846" stroke-width="1"/>
<line x1="254" y1="266.1" x2="261" y2="266.1" stroke="#6ca846" stroke-width="1"/>
<polygon points="254.8,255.03 255.35,256.35 256.77,256.46 255.69,257.39 256.02,258.77 254.8,258.03 253.58,258.77 253.91,257.39 252.83,256.46 254.25,256.35" fill="#6ca846" stroke="#437e2c" stroke-width="0.4"/>
<polygon points="260,255.03 260.55,256.35 261.97,256.46 260.89,257.39 261.22,258.77 260,258.03 258.78,258.77 259.11,257.39 258.03,256.46 259.45,256.35" fill="#6ca846" stroke="#437e2c" stroke-width="0.4"/>
<polygon points="257.4,258.43 257.95,259.75 259.37,259.86 258.29,260.79 258.62,262.17 257.4,261.43 256.18,262.17 256.51,260.79 255.43,259.86 256.85,259.75" fill="#6ca846" stroke="#437e2c" stroke-width="0.4"/>
<polygon points="257.4,267.13 257.95,268.45 259.37,268.56 258.29,269.49 258.62,270.87 257.4,270.13 256.18,270.87 256.51,269.49 255.43,268.56 256.85,268.45" fill="#6ca846" stroke="#437e2c" stroke-width="0.4"/>
<line x1="251.5" y1="260.2" x2="263.5" y2="260.2" stroke="#111" stroke-width="1.3"/>
<line x1="274.5" y1="253" x2="274.5" y2="258" stroke="#284670" stroke-width="1"/>
<line x1="271" y1="253" x2="278" y2="253" stroke="#284670" stroke-width="1"/>
<line x1="271" y1="258" x2="278" y2="258" stroke="#284670" stroke-width="1"/>
<polygon points="271.2,251.43 271.75,252.75 273.17,252.86 272.09,253.79 272.42,255.17 271.2,254.43 269.98,255.17 270.31,253.79 269.23,252.86 270.65,252.75" fill="#284670" stroke="#16284a" stroke-width="0.4"/>
<polygon points="277,251.43 277.55,252.75 278.97,252.86 277.89,253.79 278.22,255.17 277,254.43 275.78,255.17 276.11,253.79 275.03,252.86 276.45,252.75" fill="#284670" stroke="#16284a" stroke-width="0.4"/>
<polygon points="272.5,255.43 273.05,256.75 274.47,256.86 273.39,257.79 273.72,259.17 272.5,258.43 271.28,259.17 271.61,257.79 270.53,256.86 271.95,256.75" fill="#284670" stroke="#16284a" stroke-width="0.4"/>
<polygon points="275.5,255.43 276.05,256.75 277.47,256.86 276.39,257.79 276.72,259.17 275.5,258.43 274.28,259.17 274.61,257.79 273.53,256.86 274.95,256.75" fill="#284670" stroke="#16284a" stroke-width="0.4"/>
<line x1="268.5" y1="255.7" x2="280.5" y2="255.7" stroke="#111" stroke-width="1.3"/>
<line x1="291.5" y1="281.3" x2="291.5" y2="308.1" stroke="#c90f70" stroke-width="1"/>
<line x1="288" y1="281.3" x2="295" y2="281.3" stroke="#c90f70" stroke-width="1"/>
<line x1="288" y1="308.1" x2="295" y2="308.1" stroke="#c90f70" stroke-width="1"/>
<polygon points="288.5,282.33 289.05,283.65 290.47,283.76 289.39,284.69 289.72,286.07 288.5,285.33 287.28,286.07 287.61,284.69 286.53,283.76 287.95,283.65" fill="#c90f70" stroke="#8f0a50" stroke-width="0.4"/>
<polygon points="294,282.33 294.55,283.65 295.97,283.76 294.89,284.69 295.22,286.07 294,285.33 292.78,286.07 293.11,284.69 292.03,283.76 293.45,283.65" fill="#c90f70" stroke="#8f0a50" stroke-width="0.4"/>
<polygon points="291.6,311.73 292.15,313.05 293.57,313.16 292.49,314.09 292.82,315.47 291.6,314.73 290.38,315.47 290.71,314.09 289.63,313.16 291.05,313.05" fill="#c90f70" stroke="#8f0a50" stroke-width="0.4"/>
<line x1="285.5" y1="294.3" x2="297.5" y2="294.3" stroke="#111" stroke-width="1.3"/>
<line x1="308.5" y1="315.9" x2="308.5" y2="328" stroke="#a3103c" stroke-width="1"/>
<line x1="305" y1="315.9" x2="312" y2="315.9" stroke="#a3103c" stroke-width="1"/>
<line x1="305" y1="328" x2="312" y2="328" stroke="#a3103c" stroke-width="1"/>
<polygon points="308.4,312.03 308.95,313.35 310.37,313.46 309.29,314.39 309.62,315.77 308.4,315.03 307.18,315.77 307.51,314.39 306.43,313.46 307.85,313.35" fill="#a3103c" stroke="#700a2a" stroke-width="0.4"/>
<polygon points="306,320.73 306.55,322.05 307.97,322.16 306.89,323.09 307.22,324.47 306,323.73 304.78,324.47 305.11,323.09 304.03,322.16 305.45,322.05" fill="#a3103c" stroke="#700a2a" stroke-width="0.4"/>
<polygon points="311,320.73 311.55,322.05 312.97,322.16 311.89,323.09 312.22,324.47 311,323.73 309.78,324.47 310.11,323.09 309.03,322.16 310.45,322.05" fill="#a3103c" stroke="#700a2a" stroke-width="0.4"/>
<polygon points="306.5,323.93 307.05,325.25 308.47,325.36 307.39,326.29 307.72,327.67 306.5,326.93 305.28,327.67 305.61,326.29 304.53,325.36 305.95,325.25" fill="#a3103c" stroke="#700a2a" stroke-width="0.4"/>
<polygon points="310.5,323.93 311.05,325.25 312.47,325.36 311.39,326.29 311.72,327.67 310.5,326.93 309.28,327.67 309.61,326.29 308.53,325.36 309.95,325.25" fill="#a3103c" stroke="#700a2a" stroke-width="0.4"/>
<line x1="302.5" y1="322.8" x2="314.5" y2="322.8" stroke="#111" stroke-width="1.3"/>
<text x="11.55" y="386.5" font-size="12" text-anchor="middle" fill="#000" font-weight="bold">E</text>
<line x1="42.5" y1="429.8" x2="42.5" y2="522.9" stroke="#000" stroke-width="1.2"/>
<line x1="39.5" y1="522.3" x2="42.5" y2="522.3" stroke="#000" stroke-width="1.1"/>
<text x="35.9" y="525.2" font-size="8.4" text-anchor="end" fill="#4a4a4a">0</text>
<line x1="39.5" y1="500.4" x2="42.5" y2="500.4" stroke="#000" stroke-width="1.1"/>
<text x="35.9" y="503.3" font-size="8.4" text-anchor="end" fill="#4a4a4a">20</text>
<line x1="39.5" y1="478.5" x2="42.5" y2="478.5" stroke="#000" stroke-width="1.1"/>
<text x="35.9" y="481.4" font-size="8.4" text-anchor="end" fill="#4a4a4a">40</text>
<line x1="39.5" y1="456.6" x2="42.5" y2="456.6" stroke="#000" stroke-width="1.1"/>
<text x="35.9" y="459.5" font-size="8.4" text-anchor="end" fill="#4a4a4a">60</text>
<line x1="39.5" y1="434.7" x2="42.5" y2="434.7" stroke="#000" stroke-width="1.1"/>
<text x="35.9" y="437.6" font-size="8.4" text-anchor="end" fill="#4a4a4a">80</text>
<line x1="41.9" y1="522.3" x2="317" y2="522.3" stroke="#000" stroke-width="1.2"/>
<line x1="54" y1="522.3" x2="54" y2="525.5" stroke="#000" stroke-width="1.1"/>
<text x="54" y="536.5" font-size="8.4" text-anchor="middle" fill="#a8a8a8">1</text>
<line x1="70.7" y1="522.3" x2="70.7" y2="525.5" stroke="#000" stroke-width="1.1"/>
<text x="70.7" y="536.5" font-size="8.4" text-anchor="middle" fill="#4d4d55">2</text>
<line x1="87.4" y1="522.3" x2="87.4" y2="525.5" stroke="#000" stroke-width="1.1"/>
<text x="87.4" y="536.5" font-size="8.4" text-anchor="middle" fill="#a8457e">3</text>
<line x1="104.1" y1="522.3" x2="104.1" y2="525.5" stroke="#000" stroke-width="1.1"/>
<text x="104.1" y="536.5" font-size="8.4" text-anchor="middle" fill="#7e2442">4</text>
<line x1="120.8" y1="522.3" x2="120.8" y2="525.5" stroke="#000" stroke-width="1.1"/>
<text x="120.8" y="536.5" font-size="8.4" text-anchor="middle" fill="#a8a8a8">1</text>
<line x1="137.5" y1="522.3" x2="137.5" y2="525.5" stroke="#000" stroke-width="1.1"/>
<text x="137.5" y="536.5" font-size="8.4" text-anchor="middle" fill="#4d4d55">2</text>
<line x1="154.2" y1="522.3" x2="154.2" y2="525.5" stroke="#000" stroke-width="1.1"/>
<text x="154.2" y="536.5" font-size="8.4" text-anchor="middle" fill="#a8457e">3</text>
<line x1="170.9" y1="522.3" x2="170.9" y2="525.5" stroke="#000" stroke-width="1.1"/>
<text x="170.9" y="536.5" font-size="8.4" text-anchor="middle" fill="#7e2442">4</text>
<line x1="187.6" y1="522.3" x2="187.6" y2="525.5" stroke="#000" stroke-width="1.1"/>
<text x="187.6" y="536.5" font-size="8.4" text-anchor="middle" fill="#a8a8a8">1</text>
<line x1="204.3" y1="522.3" x2="204.3" y2="525.5" stroke="#000" stroke-width="1.1"/>
<text x="204.3" y="536.5" font-size="8.4" text-anchor="middle" fill="#4d4d55">2</text>
<line x1="221" y1="522.3" x2="221" y2="525.5" stroke="#000" stroke-width="1.1"/>
<text x="221" y="536.5" font-size="8.4" text-anchor="middle" fill="#a8457e">3</text>
<line x1="237.7" y1="522.3" x2="237.7" y2="525.5" stroke="#000" stroke-width="1.1"/>
<text x="237.7" y="536.5" font-size="8.4" text-anchor="middle" fill="#7e2442">4</text>
<line x1="254.4" y1="522.3" x2="254.4" y2="525.5" stroke="#000" stroke-width="1.1"/>
<text x="254.4" y="536.5" font-size="8.4" text-anchor="middle" fill="#a8a8a8">1</text>
<line x1="271.1" y1="522.3" x2="271.1" y2="525.5" stroke="#000" stroke-width="1.1"/>
<text x="271.1" y="536.5" font-size="8.4" text-anchor="middle" fill="#4d4d55">2</text>
<line x1="287.8" y1="522.3" x2="287.8" y2="525.5" stroke="#000" stroke-width="1.1"/>
<text x="287.8" y="536.5" font-size="8.4" text-anchor="middle" fill="#a8457e">3</text>
<line x1="304.5" y1="522.3" x2="304.5" y2="525.5" stroke="#000" stroke-width="1.1"/>
<text x="304.5" y="536.5" font-size="8.4" text-anchor="middle" fill="#7e2442">4</text>
<line x1="112.2" y1="430.7" x2="112.2" y2="518.8" stroke="#1a1a1a" stroke-width="1.7" stroke-dasharray="1.25,0.95"/>
<line x1="179.5" y1="430.7" x2="179.5" y2="518.8" stroke="#1a1a1a" stroke-width="1.7" stroke-dasharray="1.25,0.95"/>
<line x1="246.4" y1="430.7" x2="246.4" y2="518.8" stroke="#1a1a1a" stroke-width="1.7" stroke-dasharray="1.25,0.95"/>
<text x="79.05" y="412.2" font-size="8.2" text-anchor="middle" fill="#222">Nandi</text>
<text x="145.85" y="412.2" font-size="8.2" text-anchor="middle" fill="#222">Kisumu</text>
<text x="212.65" y="412.2" font-size="8.2" text-anchor="middle" fill="#222">BL low EBV</text>
<text x="279.45" y="412.2" font-size="8.2" text-anchor="middle" fill="#222">BL high EBV</text>
<text x="19.1" y="476.05" font-size="8.9" text-anchor="middle" fill="#1a1a1a" transform="rotate(-90 19.1 476.05)" textLength="81.5" lengthAdjust="spacingAndGlyphs" stroke="#1a1a1a" stroke-width="0.3">% of CD161 positives cells</text>
<line x1="120" y1="428" x2="171.6" y2="428" stroke="#2a2a2a" stroke-width="1.3"/>
<text x="145.8" y="427.6" font-size="7.3" text-anchor="middle" fill="#111" letter-spacing="-0.1">*</text>
<line x1="222.6" y1="421.2" x2="238.8" y2="421.2" stroke="#2a2a2a" stroke-width="1.3"/>
<text x="230.7" y="420.8" font-size="7.3" text-anchor="middle" fill="#111" letter-spacing="-0.1">*</text>
<line x1="186.9" y1="427.9" x2="238.8" y2="427.9" stroke="#2a2a2a" stroke-width="1.3"/>
<text x="212.85" y="427.5" font-size="7.3" text-anchor="middle" fill="#111" letter-spacing="-0.1">*</text>
<line x1="54" y1="444.2" x2="54" y2="492.7" stroke="#6ca846" stroke-width="1"/>
<line x1="50.5" y1="444.2" x2="57.5" y2="444.2" stroke="#6ca846" stroke-width="1"/>
<line x1="50.5" y1="492.7" x2="57.5" y2="492.7" stroke="#6ca846" stroke-width="1"/>
<circle cx="50.7" cy="440.3" r="1.8" fill="#6ca846" stroke="#437e2c" stroke-width="0.6"/>
<circle cx="56.5" cy="437.8" r="1.8" fill="#6ca846" stroke="#437e2c" stroke-width="0.6"/>
<circle cx="54" cy="454.5" r="1.8" fill="#6ca846" stroke="#437e2c" stroke-width="0.6"/>
<circle cx="54" cy="465" r="1.8" fill="#6ca846" stroke="#437e2c" stroke-width="0.6"/>
<circle cx="54" cy="470.8" r="1.8" fill="#6ca846" stroke="#437e2c" stroke-width="0.6"/>
<circle cx="54" cy="481" r="1.8" fill="#6ca846" stroke="#437e2c" stroke-width="0.6"/>
<circle cx="54" cy="487.4" r="1.8" fill="#6ca846" stroke="#437e2c" stroke-width="0.6"/>
<circle cx="54" cy="509.1" r="1.8" fill="#6ca846" stroke="#437e2c" stroke-width="0.6"/>
<line x1="48" y1="468.4" x2="60" y2="468.4" stroke="#111" stroke-width="1.3"/>
<line x1="70.7" y1="461.7" x2="70.7" y2="507.2" stroke="#284670" stroke-width="1"/>
<line x1="67.2" y1="461.7" x2="74.2" y2="461.7" stroke="#284670" stroke-width="1"/>
<line x1="67.2" y1="507.2" x2="74.2" y2="507.2" stroke="#284670" stroke-width="1"/>
<circle cx="70.4" cy="453.3" r="1.8" fill="#284670" stroke="#16284a" stroke-width="0.6"/>
<circle cx="68.1" cy="473.9" r="1.8" fill="#284670" stroke="#16284a" stroke-width="0.6"/>
<circle cx="73.3" cy="478.1" r="1.8" fill="#284670" stroke="#16284a" stroke-width="0.6"/>
<circle cx="73.3" cy="488.8" r="1.8" fill="#284670" stroke="#16284a" stroke-width="0.6"/>
<circle cx="68.1" cy="493.3" r="1.8" fill="#284670" stroke="#16284a" stroke-width="0.6"/>
<circle cx="70.4" cy="507.6" r="1.8" fill="#284670" stroke="#16284a" stroke-width="0.6"/>
<circle cx="70.4" cy="515" r="1.8" fill="#284670" stroke="#16284a" stroke-width="0.6"/>
<line x1="64.7" y1="484" x2="76.7" y2="484" stroke="#111" stroke-width="1.3"/>
<line x1="87.4" y1="448.1" x2="87.4" y2="491.7" stroke="#c90f70" stroke-width="1"/>
<line x1="83.9" y1="448.1" x2="90.9" y2="448.1" stroke="#c90f70" stroke-width="1"/>
<line x1="83.9" y1="491.7" x2="90.9" y2="491.7" stroke="#c90f70" stroke-width="1"/>
<circle cx="87.1" cy="442.3" r="1.8" fill="#c90f70" stroke="#8f0a50" stroke-width="0.6"/>
<circle cx="84.2" cy="457.8" r="1.8" fill="#c90f70" stroke="#8f0a50" stroke-width="0.6"/>
<circle cx="90" cy="456.4" r="1.8" fill="#c90f70" stroke="#8f0a50" stroke-width="0.6"/>
<circle cx="90" cy="462.2" r="1.8" fill="#c90f70" stroke="#8f0a50" stroke-width="0.6"/>
<circle cx="87.1" cy="473.9" r="1.8" fill="#c90f70" stroke="#8f0a50" stroke-width="0.6"/>
<circle cx="84.2" cy="502.9" r="1.8" fill="#c90f70" stroke="#8f0a50" stroke-width="0.6"/>
<circle cx="90" cy="499.8" r="1.8" fill="#c90f70" stroke="#8f0a50" stroke-width="0.6"/>
<line x1="81.4" y1="470" x2="93.4" y2="470" stroke="#111" stroke-width="1.3"/>
<line x1="104.1" y1="457.2" x2="104.1" y2="499.1" stroke="#a3103c" stroke-width="1"/>
<line x1="100.6" y1="457.2" x2="107.6" y2="457.2" stroke="#a3103c" stroke-width="1"/>
<line x1="100.6" y1="499.1" x2="107.6" y2="499.1" stroke="#a3103c" stroke-width="1"/>
<circle cx="104" cy="446.7" r="1.8" fill="#a3103c" stroke="#700a2a" stroke-width="0.6"/>
<circle cx="104" cy="453.9" r="1.8" fill="#a3103c" stroke="#700a2a" stroke-width="0.6"/>
<circle cx="104" cy="461.7" r="1.8" fill="#a3103c" stroke="#700a2a" stroke-width="0.6"/>
<circle cx="101" cy="486.3" r="1.8" fill="#a3103c" stroke="#700a2a" stroke-width="0.6"/>
<circle cx="106.9" cy="488.8" r="1.8" fill="#a3103c" stroke="#700a2a" stroke-width="0.6"/>
<circle cx="101" cy="494.6" r="1.8" fill="#a3103c" stroke="#700a2a" stroke-width="0.6"/>
<circle cx="106.9" cy="495.6" r="1.8" fill="#a3103c" stroke="#700a2a" stroke-width="0.6"/>
<circle cx="104" cy="499.8" r="1.8" fill="#a3103c" stroke="#700a2a" stroke-width="0.6"/>
<line x1="98.1" y1="478.5" x2="110.1" y2="478.5" stroke="#111" stroke-width="1.3"/>
<line x1="120.8" y1="443.3" x2="120.8" y2="477.8" stroke="#6ca846" stroke-width="1"/>
<line x1="117.3" y1="443.3" x2="124.3" y2="443.3" stroke="#6ca846" stroke-width="1"/>
<line x1="117.3" y1="477.8" x2="124.3" y2="477.8" stroke="#6ca846" stroke-width="1"/>
<polygon points="120.6,439.3 118.71,442.63 122.49,442.63" fill="#6ca846" stroke="#437e2c" stroke-width="0.6"/>
<polygon points="117.7,448.6 115.81,451.93 119.59,451.93" fill="#6ca846" stroke="#437e2c" stroke-width="0.6"/>
<polygon points="123.5,448.6 121.61,451.93 125.39,451.93" fill="#6ca846" stroke="#437e2c" stroke-width="0.6"/>
<polygon points="120.6,453.9 118.71,457.23 122.49,457.23" fill="#6ca846" stroke="#437e2c" stroke-width="0.6"/>
<polygon points="117.3,468.8 115.41,472.13 119.19,472.13" fill="#6ca846" stroke="#437e2c" stroke-width="0.6"/>
<polygon points="123.5,469.9 121.61,473.23 125.39,473.23" fill="#6ca846" stroke="#437e2c" stroke-width="0.6"/>
<polygon points="120.6,491.6 118.71,494.93 122.49,494.93" fill="#6ca846" stroke="#437e2c" stroke-width="0.6"/>
<line x1="114.8" y1="460.7" x2="126.8" y2="460.7" stroke="#111" stroke-width="1.3"/>
<line x1="137.5" y1="455.3" x2="137.5" y2="502.4" stroke="#284670" stroke-width="1"/>
<line x1="134" y1="455.3" x2="141" y2="455.3" stroke="#284670" stroke-width="1"/>
<line x1="134" y1="502.4" x2="141" y2="502.4" stroke="#284670" stroke-width="1"/>
<polygon points="137.7,438.3 135.81,441.63 139.59,441.63" fill="#284670" stroke="#16284a" stroke-width="0.6"/>
<polygon points="137.7,461.6 135.81,464.93 139.59,464.93" fill="#284670" stroke="#16284a" stroke-width="0.6"/>
<polygon points="134.7,473.8 132.81,477.13 136.59,477.13" fill="#284670" stroke="#16284a" stroke-width="0.6"/>
<polygon points="140.6,473.8 138.71,477.13 142.49,477.13" fill="#284670" stroke="#16284a" stroke-width="0.6"/>
<polygon points="134.7,480 132.81,483.33 136.59,483.33" fill="#284670" stroke="#16284a" stroke-width="0.6"/>
<polygon points="140.6,480 138.71,483.33 142.49,483.33" fill="#284670" stroke="#16284a" stroke-width="0.6"/>
<polygon points="137.7,488.2 135.81,491.53 139.59,491.53" fill="#284670" stroke="#16284a" stroke-width="0.6"/>
<polygon points="137.7,521.7 135.81,525.03 139.59,525.03" fill="#284670" stroke="#16284a" stroke-width="0.6"/>
<line x1="131.5" y1="478.1" x2="143.5" y2="478.1" stroke="#111" stroke-width="1.3"/>
<line x1="154.2" y1="455.9" x2="154.2" y2="490.2" stroke="#c90f70" stroke-width="1"/>
<line x1="150.7" y1="455.9" x2="157.7" y2="455.9" stroke="#c90f70" stroke-width="1"/>
<line x1="150.7" y1="490.2" x2="157.7" y2="490.2" stroke="#c90f70" stroke-width="1"/>
<polygon points="154.1,444.7 152.21,448.03 155.99,448.03" fill="#c90f70" stroke="#8f0a50" stroke-width="0.6"/>
<polygon points="154.1,454 152.21,457.33 155.99,457.33" fill="#c90f70" stroke="#8f0a50" stroke-width="0.6"/>
<polygon points="154.1,464.5 152.21,467.83 155.99,467.83" fill="#c90f70" stroke="#8f0a50" stroke-width="0.6"/>
<polygon points="151.6,473.2 149.71,476.53 153.49,476.53" fill="#c90f70" stroke="#8f0a50" stroke-width="0.6"/>
<polygon points="157.4,479.6 155.51,482.93 159.29,482.93" fill="#c90f70" stroke="#8f0a50" stroke-width="0.6"/>
<polygon points="157.4,491.3 155.51,494.63 159.29,494.63" fill="#c90f70" stroke="#8f0a50" stroke-width="0.6"/>
<polygon points="151.6,495.1 149.71,498.43 153.49,498.43" fill="#c90f70" stroke="#8f0a50" stroke-width="0.6"/>
<line x1="148.2" y1="473.3" x2="160.2" y2="473.3" stroke="#111" stroke-width="1.3"/>
<line x1="170.9" y1="464.2" x2="170.9" y2="515" stroke="#a3103c" stroke-width="1"/>
<line x1="167.4" y1="464.2" x2="174.4" y2="464.2" stroke="#a3103c" stroke-width="1"/>
<line x1="167.4" y1="515" x2="174.4" y2="515" stroke="#a3103c" stroke-width="1"/>
<polygon points="171,447.1 169.11,450.43 172.89,450.43" fill="#a3103c" stroke="#700a2a" stroke-width="0.6"/>
<polygon points="171,462.2 169.11,465.53 172.89,465.53" fill="#a3103c" stroke="#700a2a" stroke-width="0.6"/>
<polygon points="173.9,475.8 172.01,479.13 175.79,479.13" fill="#a3103c" stroke="#700a2a" stroke-width="0.6"/>
<polygon points="168.1,477.7 166.21,481.03 169.99,481.03" fill="#a3103c" stroke="#700a2a" stroke-width="0.6"/>
<polygon points="168.1,501.7 166.21,505.03 169.99,505.03" fill="#a3103c" stroke="#700a2a" stroke-width="0.6"/>
<polygon points="173.9,506.8 172.01,510.13 175.79,510.13" fill="#a3103c" stroke="#700a2a" stroke-width="0.6"/>
<polygon points="173.9,513 172.01,516.33 175.79,516.33" fill="#a3103c" stroke="#700a2a" stroke-width="0.6"/>
<polygon points="168.1,518.4 166.21,521.73 169.99,521.73" fill="#a3103c" stroke="#700a2a" stroke-width="0.6"/>
<line x1="164.9" y1="489.4" x2="176.9" y2="489.4" stroke="#111" stroke-width="1.3"/>
<line x1="187.6" y1="452.6" x2="187.6" y2="496.2" stroke="#6ca846" stroke-width="1"/>
<line x1="184.1" y1="452.6" x2="191.1" y2="452.6" stroke="#6ca846" stroke-width="1"/>
<line x1="184.1" y1="496.2" x2="191.1" y2="496.2" stroke="#6ca846" stroke-width="1"/>
<polygon points="188.1,438.72 190.08,440.7 188.1,442.68 186.12,440.7" fill="#6ca846" stroke="#437e2c" stroke-width="0.6"/>
<polygon points="184.5,457.32 186.48,459.3 184.5,461.28 182.52,459.3" fill="#6ca846" stroke="#437e2c" stroke-width="0.6"/>
<polygon points="190.5,460.92 192.48,462.9 190.5,464.88 188.52,462.9" fill="#6ca846" stroke="#437e2c" stroke-width="0.6"/>
<polygon points="184.5,490.62 186.48,492.6 184.5,494.58 182.52,492.6" fill="#6ca846" stroke="#437e2c" stroke-width="0.6"/>
<polygon points="190.5,490.62 192.48,492.6 190.5,494.58 188.52,492.6" fill="#6ca846" stroke="#437e2c" stroke-width="0.6"/>
<polygon points="188.1,499.02 190.08,501 188.1,502.98 186.12,501" fill="#6ca846" stroke="#437e2c" stroke-width="0.6"/>
<line x1="181.6" y1="474.8" x2="193.6" y2="474.8" stroke="#111" stroke-width="1.3"/>
<line x1="204.3" y1="464" x2="204.3" y2="512.9" stroke="#284670" stroke-width="1"/>
<line x1="200.8" y1="464" x2="207.8" y2="464" stroke="#284670" stroke-width="1"/>
<line x1="200.8" y1="512.9" x2="207.8" y2="512.9" stroke="#284670" stroke-width="1"/>
<polygon points="204.3,441.82 206.28,443.8 204.3,445.78 202.32,443.8" fill="#284670" stroke="#16284a" stroke-width="0.6"/>
<polygon points="204.3,465.62 206.28,467.6 204.3,469.58 202.32,467.6" fill="#284670" stroke="#16284a" stroke-width="0.6"/>
<polygon points="201.2,495.42 203.18,497.4 201.2,499.38 199.22,497.4" fill="#284670" stroke="#16284a" stroke-width="0.6"/>
<polygon points="207.1,495.42 209.08,497.4 207.1,499.38 205.12,497.4" fill="#284670" stroke="#16284a" stroke-width="0.6"/>
<polygon points="204.3,499.02 206.28,501 204.3,502.98 202.32,501" fill="#284670" stroke="#16284a" stroke-width="0.6"/>
<polygon points="204.3,514.42 206.28,516.4 204.3,518.38 202.32,516.4" fill="#284670" stroke="#16284a" stroke-width="0.6"/>
<line x1="198.3" y1="489" x2="210.3" y2="489" stroke="#111" stroke-width="1.3"/>
<line x1="221" y1="457.4" x2="221" y2="496.2" stroke="#c90f70" stroke-width="1"/>
<line x1="217.5" y1="457.4" x2="224.5" y2="457.4" stroke="#c90f70" stroke-width="1"/>
<line x1="217.5" y1="496.2" x2="224.5" y2="496.2" stroke="#c90f70" stroke-width="1"/>
<polygon points="221,444.22 222.98,446.2 221,448.18 219.02,446.2" fill="#c90f70" stroke="#8f0a50" stroke-width="0.6"/>
<polygon points="217.9,470.42 219.88,472.4 217.9,474.38 215.92,472.4" fill="#c90f70" stroke="#8f0a50" stroke-width="0.6"/>
<polygon points="224.5,475.12 226.48,477.1 224.5,479.08 222.52,477.1" fill="#c90f70" stroke="#8f0a50" stroke-width="0.6"/>
<polygon points="221,484.72 222.98,486.7 221,488.68 219.02,486.7" fill="#c90f70" stroke="#8f0a50" stroke-width="0.6"/>
<polygon points="221,499.02 222.98,501 221,502.98 219.02,501" fill="#c90f70" stroke="#8f0a50" stroke-width="0.6"/>
<line x1="215" y1="477.1" x2="227" y2="477.1" stroke="#111" stroke-width="1.3"/>
<line x1="237.7" y1="486.7" x2="237.7" y2="516" stroke="#a3103c" stroke-width="1"/>
<line x1="234.2" y1="486.7" x2="241.2" y2="486.7" stroke="#a3103c" stroke-width="1"/>
<line x1="234.2" y1="516" x2="241.2" y2="516" stroke="#a3103c" stroke-width="1"/>
<polygon points="238.1,468.02 240.08,470 238.1,471.98 236.12,470" fill="#a3103c" stroke="#700a2a" stroke-width="0.6"/>
<polygon points="238.1,496.62 240.08,498.6 238.1,500.58 236.12,498.6" fill="#a3103c" stroke="#700a2a" stroke-width="0.6"/>
<polygon points="234.5,503.72 236.48,505.7 234.5,507.68 232.52,505.7" fill="#a3103c" stroke="#700a2a" stroke-width="0.6"/>
<polygon points="240.5,504.42 242.48,506.4 240.5,508.38 238.52,506.4" fill="#a3103c" stroke="#700a2a" stroke-width="0.6"/>
<polygon points="236.5,509.72 238.48,511.7 236.5,513.68 234.52,511.7" fill="#a3103c" stroke="#700a2a" stroke-width="0.6"/>
<polygon points="240.5,509.72 242.48,511.7 240.5,513.68 238.52,511.7" fill="#a3103c" stroke="#700a2a" stroke-width="0.6"/>
<line x1="231.7" y1="501.7" x2="243.7" y2="501.7" stroke="#111" stroke-width="1.3"/>
<line x1="254.4" y1="466" x2="254.4" y2="516.8" stroke="#6ca846" stroke-width="1"/>
<line x1="250.9" y1="466" x2="257.9" y2="466" stroke="#6ca846" stroke-width="1"/>
<line x1="250.9" y1="516.8" x2="257.9" y2="516.8" stroke="#6ca846" stroke-width="1"/>
<polygon points="255.1,457.83 255.65,459.15 257.07,459.26 255.99,460.19 256.32,461.57 255.1,460.83 253.88,461.57 254.21,460.19 253.13,459.26 254.55,459.15" fill="#6ca846" stroke="#437e2c" stroke-width="0.4"/>
<polygon points="255.1,480.33 255.65,481.65 257.07,481.76 255.99,482.69 256.32,484.07 255.1,483.33 253.88,484.07 254.21,482.69 253.13,481.76 254.55,481.65" fill="#6ca846" stroke="#437e2c" stroke-width="0.4"/>
<polygon points="252.4,509.43 252.95,510.75 254.37,510.86 253.29,511.79 253.62,513.17 252.4,512.43 251.18,513.17 251.51,511.79 250.43,510.86 251.85,510.75" fill="#6ca846" stroke="#437e2c" stroke-width="0.4"/>
<polygon points="257.7,508.13 258.25,509.45 259.67,509.56 258.59,510.49 258.92,511.87 257.7,511.13 256.48,511.87 256.81,510.49 255.73,509.56 257.15,509.45" fill="#6ca846" stroke="#437e2c" stroke-width="0.4"/>
<line x1="248.4" y1="491.7" x2="260.4" y2="491.7" stroke="#111" stroke-width="1.3"/>
<line x1="271.1" y1="475" x2="271.1" y2="524.2" stroke="#284670" stroke-width="1"/>
<line x1="267.6" y1="475" x2="274.6" y2="475" stroke="#284670" stroke-width="1"/>
<line x1="267.6" y1="524.2" x2="274.6" y2="524.2" stroke="#284670" stroke-width="1"/>
<polygon points="271.5,462.33 272.05,463.65 273.47,463.76 272.39,464.69 272.72,466.07 271.5,465.33 270.28,466.07 270.61,464.69 269.53,463.76 270.95,463.65" fill="#284670" stroke="#16284a" stroke-width="0.4"/>
<polygon points="268.3,501.53 268.85,502.85 270.27,502.96 269.19,503.89 269.52,505.27 268.3,504.53 267.08,505.27 267.41,503.89 266.33,502.96 267.75,502.85" fill="#284670" stroke="#16284a" stroke-width="0.4"/>
<polygon points="274.7,505.53 275.25,506.85 276.67,506.96 275.59,507.89 275.92,509.27 274.7,508.53 273.48,509.27 273.81,507.89 272.73,506.96 274.15,506.85" fill="#284670" stroke="#16284a" stroke-width="0.4"/>
<polygon points="271.5,519.93 272.05,521.25 273.47,521.36 272.39,522.29 272.72,523.67 271.5,522.93 270.28,523.67 270.61,522.29 269.53,521.36 270.95,521.25" fill="#284670" stroke="#16284a" stroke-width="0.4"/>
<line x1="265.1" y1="500.4" x2="277.1" y2="500.4" stroke="#111" stroke-width="1.3"/>
<line x1="287.8" y1="474.4" x2="287.8" y2="524.2" stroke="#c90f70" stroke-width="1"/>
<line x1="284.3" y1="474.4" x2="291.3" y2="474.4" stroke="#c90f70" stroke-width="1"/>
<line x1="284.3" y1="524.2" x2="291.3" y2="524.2" stroke="#c90f70" stroke-width="1"/>
<polygon points="288.2,460.43 288.75,461.75 290.17,461.86 289.09,462.79 289.42,464.17 288.2,463.43 286.98,464.17 287.31,462.79 286.23,461.86 287.65,461.75" fill="#c90f70" stroke="#8f0a50" stroke-width="0.4"/>
<polygon points="285.5,505.53 286.05,506.85 287.47,506.96 286.39,507.89 286.72,509.27 285.5,508.53 284.28,509.27 284.61,507.89 283.53,506.96 284.95,506.85" fill="#c90f70" stroke="#8f0a50" stroke-width="0.4"/>
<polygon points="291.3,508.13 291.85,509.45 293.27,509.56 292.19,510.49 292.52,511.87 291.3,511.13 290.08,511.87 290.41,510.49 289.33,509.56 290.75,509.45" fill="#c90f70" stroke="#8f0a50" stroke-width="0.4"/>
<line x1="281.8" y1="498.3" x2="293.8" y2="498.3" stroke="#111" stroke-width="1.3"/>
<line x1="304.5" y1="510.2" x2="304.5" y2="524.2" stroke="#a3103c" stroke-width="1"/>
<line x1="301" y1="510.2" x2="308" y2="510.2" stroke="#a3103c" stroke-width="1"/>
<line x1="301" y1="524.2" x2="308" y2="524.2" stroke="#a3103c" stroke-width="1"/>
<polygon points="304.6,504.73 305.15,506.05 306.57,506.16 305.49,507.09 305.82,508.47 304.6,507.73 303.38,508.47 303.71,507.09 302.63,506.16 304.05,506.05" fill="#a3103c" stroke="#700a2a" stroke-width="0.4"/>
<polygon points="302,519.53 302.55,520.85 303.97,520.96 302.89,521.89 303.22,523.27 302,522.53 300.78,523.27 301.11,521.89 300.03,520.96 301.45,520.85" fill="#a3103c" stroke="#700a2a" stroke-width="0.4"/>
<polygon points="308,519.53 308.55,520.85 309.97,520.96 308.89,521.89 309.22,523.27 308,522.53 306.78,523.27 307.11,521.89 306.03,520.96 307.45,520.85" fill="#a3103c" stroke="#700a2a" stroke-width="0.4"/>
<line x1="298.5" y1="516.8" x2="310.5" y2="516.8" stroke="#111" stroke-width="1.3"/>
<text x="340.15" y="17.6" font-size="12" text-anchor="middle" fill="#000" font-weight="bold">C</text>
<text x="441.75" y="19.6" font-size="9.8" text-anchor="middle" fill="#111" textLength="138.7" lengthAdjust="spacing">NKp30<tspan font-size="7.3" dy="-2.8">+</tspan><tspan dy="2.8"> on CD56</tspan><tspan font-size="7.2" dy="-2.8">neg</tspan><tspan dy="2.8">CD16</tspan><tspan font-size="7.3" dy="-2.8">+</tspan><tspan dy="2.8"> NK</tspan></text>
<text x="442" y="31.1" font-size="9.8" text-anchor="middle" fill="#111">cells</text>
<line x1="370.6" y1="58.5" x2="370.6" y2="156.2" stroke="#000" stroke-width="1.2"/>
<line x1="367.6" y1="155.6" x2="370.6" y2="155.6" stroke="#000" stroke-width="1.1"/>
<text x="364" y="158.5" font-size="8.4" text-anchor="end" fill="#4a4a4a">0</text>
<line x1="367.6" y1="132" x2="370.6" y2="132" stroke="#000" stroke-width="1.1"/>
<text x="364" y="134.9" font-size="8.4" text-anchor="end" fill="#4a4a4a">20</text>
<line x1="367.6" y1="108.4" x2="370.6" y2="108.4" stroke="#000" stroke-width="1.1"/>
<text x="364" y="111.3" font-size="8.4" text-anchor="end" fill="#4a4a4a">40</text>
<line x1="367.6" y1="84.8" x2="370.6" y2="84.8" stroke="#000" stroke-width="1.1"/>
<text x="364" y="87.7" font-size="8.4" text-anchor="end" fill="#4a4a4a">60</text>
<line x1="367.6" y1="61.2" x2="370.6" y2="61.2" stroke="#000" stroke-width="1.1"/>
<text x="364" y="64.1" font-size="8.4" text-anchor="end" fill="#4a4a4a">80</text>
<line x1="370" y1="155.6" x2="512.2" y2="155.6" stroke="#000" stroke-width="1.2"/>
<line x1="392.6" y1="155.6" x2="392.6" y2="158.8" stroke="#000" stroke-width="1.1"/>
<line x1="425.7" y1="155.6" x2="425.7" y2="158.8" stroke="#000" stroke-width="1.1"/>
<line x1="458" y1="155.6" x2="458" y2="158.8" stroke="#000" stroke-width="1.1"/>
<line x1="491.2" y1="155.6" x2="491.2" y2="158.8" stroke="#000" stroke-width="1.1"/>
<line x1="391.2" y1="41.7" x2="490.5" y2="41.7" stroke="#2a2a2a" stroke-width="1.3"/>
<text x="440.85" y="41.3" font-size="7.3" text-anchor="middle" fill="#111" letter-spacing="-0.1">**</text>
<line x1="426.8" y1="50.6" x2="490.5" y2="50.6" stroke="#2a2a2a" stroke-width="1.3"/>
<text x="458.65" y="50.2" font-size="7.3" text-anchor="middle" fill="#111" letter-spacing="-0.1">*</text>
<line x1="462" y1="60.2" x2="490.5" y2="60.2" stroke="#2a2a2a" stroke-width="1.3"/>
<text x="476.25" y="59.8" font-size="7.3" text-anchor="middle" fill="#111" letter-spacing="-0.1">**</text>
<line x1="392.6" y1="80.7" x2="392.6" y2="118" stroke="#2a2a2a" stroke-width="1.2"/>
<line x1="386.6" y1="80.7" x2="398.6" y2="80.7" stroke="#2a2a2a" stroke-width="1.2"/>
<line x1="386.6" y1="118" x2="398.6" y2="118" stroke="#2a2a2a" stroke-width="1.2"/>
<circle cx="392.6" cy="70.1" r="1.7" fill="#4a4a4a" stroke="#2a2a2a" stroke-width="0.6"/>
<circle cx="389.6" cy="78.5" r="1.7" fill="#4a4a4a" stroke="#2a2a2a" stroke-width="0.6"/>
<circle cx="395.8" cy="82" r="1.7" fill="#4a4a4a" stroke="#2a2a2a" stroke-width="0.6"/>
<circle cx="392.6" cy="91.5" r="1.7" fill="#4a4a4a" stroke="#2a2a2a" stroke-width="0.6"/>
<circle cx="389.6" cy="97" r="1.7" fill="#4a4a4a" stroke="#2a2a2a" stroke-width="0.6"/>
<circle cx="395.8" cy="103.5" r="1.7" fill="#4a4a4a" stroke="#2a2a2a" stroke-width="0.6"/>
<circle cx="392.6" cy="109.4" r="1.7" fill="#4a4a4a" stroke="#2a2a2a" stroke-width="0.6"/>
<circle cx="389.6" cy="118" r="1.7" fill="#4a4a4a" stroke="#2a2a2a" stroke-width="0.6"/>
<circle cx="395.8" cy="119" r="1.7" fill="#4a4a4a" stroke="#2a2a2a" stroke-width="0.6"/>
<circle cx="392.6" cy="126" r="1.7" fill="#4a4a4a" stroke="#2a2a2a" stroke-width="0.6"/>
<line x1="382.2" y1="99.5" x2="403.5" y2="99.5" stroke="#111" stroke-width="1.4"/>
<line x1="425.7" y1="95.4" x2="425.7" y2="137" stroke="#2a2a2a" stroke-width="1.2"/>
<line x1="419.7" y1="95.4" x2="431.7" y2="95.4" stroke="#2a2a2a" stroke-width="1.2"/>
<line x1="419.7" y1="137" x2="431.7" y2="137" stroke="#2a2a2a" stroke-width="1.2"/>
<polygon points="425.5,85.91 423.71,89.06 427.29,89.06" fill="#4a4a4a" stroke="#2a2a2a" stroke-width="0.6"/>
<polygon points="422.6,106.01 420.81,109.16 424.39,109.16" fill="#4a4a4a" stroke="#2a2a2a" stroke-width="0.6"/>
<polygon points="428.4,107.71 426.61,110.86 430.19,110.86" fill="#4a4a4a" stroke="#2a2a2a" stroke-width="0.6"/>
<polygon points="422.6,119.61 420.81,122.76 424.39,122.76" fill="#4a4a4a" stroke="#2a2a2a" stroke-width="0.6"/>
<polygon points="428.4,118.21 426.61,121.36 430.19,121.36" fill="#4a4a4a" stroke="#2a2a2a" stroke-width="0.6"/>
<polygon points="425.5,139.41 423.71,142.56 427.29,142.56" fill="#4a4a4a" stroke="#2a2a2a" stroke-width="0.6"/>
<polygon points="425.5,146.71 423.71,149.86 427.29,149.86" fill="#4a4a4a" stroke="#2a2a2a" stroke-width="0.6"/>
<line x1="415.2" y1="116.3" x2="435.6" y2="116.3" stroke="#111" stroke-width="1.4"/>
<line x1="458" y1="66.2" x2="458" y2="120.9" stroke="#2a2a2a" stroke-width="1.2"/>
<line x1="452" y1="66.2" x2="464" y2="66.2" stroke="#2a2a2a" stroke-width="1.2"/>
<line x1="452" y1="120.9" x2="464" y2="120.9" stroke="#2a2a2a" stroke-width="1.2"/>
<polygon points="458,66.93 459.87,68.8 458,70.67 456.13,68.8" fill="#4a4a4a" stroke="#2a2a2a" stroke-width="0.6"/>
<polygon points="452,72.73 453.87,74.6 452,76.47 450.13,74.6" fill="#4a4a4a" stroke="#2a2a2a" stroke-width="0.6"/>
<polygon points="458,73.63 459.87,75.5 458,77.37 456.13,75.5" fill="#4a4a4a" stroke="#2a2a2a" stroke-width="0.6"/>
<polygon points="464.4,72.73 466.27,74.6 464.4,76.47 462.53,74.6" fill="#4a4a4a" stroke="#2a2a2a" stroke-width="0.6"/>
<polygon points="458,96.93 459.87,98.8 458,100.67 456.13,98.8" fill="#4a4a4a" stroke="#2a2a2a" stroke-width="0.6"/>
<polygon points="458,115.43 459.87,117.3 458,119.17 456.13,117.3" fill="#4a4a4a" stroke="#2a2a2a" stroke-width="0.6"/>
<polygon points="458,140.23 459.87,142.1 458,143.97 456.13,142.1" fill="#4a4a4a" stroke="#2a2a2a" stroke-width="0.6"/>
<line x1="448" y1="93.2" x2="468.6" y2="93.2" stroke="#111" stroke-width="1.4"/>
<line x1="491.2" y1="144.7" x2="491.2" y2="153.5" stroke="#2a2a2a" stroke-width="1.2"/>
<line x1="485.2" y1="144.7" x2="497.2" y2="144.7" stroke="#2a2a2a" stroke-width="1.2"/>
<line x1="485.2" y1="153.5" x2="497.2" y2="153.5" stroke="#2a2a2a" stroke-width="1.2"/>
<polygon points="487.6,141.84 488.12,143.09 489.46,143.2 488.44,144.07 488.75,145.38 487.6,144.68 486.45,145.38 486.76,144.07 485.74,143.2 487.08,143.09" fill="#4a4a4a" stroke="#2a2a2a" stroke-width="0.4"/>
<polygon points="496.1,144.54 496.62,145.79 497.96,145.9 496.94,146.77 497.25,148.08 496.1,147.38 494.95,148.08 495.26,146.77 494.24,145.9 495.58,145.79" fill="#4a4a4a" stroke="#2a2a2a" stroke-width="0.4"/>
<polygon points="491.2,148.44 491.72,149.69 493.06,149.8 492.04,150.67 492.35,151.98 491.2,151.28 490.05,151.98 490.36,150.67 489.34,149.8 490.68,149.69" fill="#4a4a4a" stroke="#2a2a2a" stroke-width="0.4"/>
<polygon points="486.8,150.64 487.32,151.89 488.66,152 487.64,152.87 487.95,154.18 486.8,153.48 485.65,154.18 485.96,152.87 484.94,152 486.28,151.89" fill="#4a4a4a" stroke="#2a2a2a" stroke-width="0.4"/>
<polygon points="493.8,150.64 494.32,151.89 495.66,152 494.64,152.87 494.95,154.18 493.8,153.48 492.65,154.18 492.96,152.87 491.94,152 493.28,151.89" fill="#4a4a4a" stroke="#2a2a2a" stroke-width="0.4"/>
<line x1="480.2" y1="148.2" x2="501.8" y2="148.2" stroke="#111" stroke-width="1.4"/>
<text x="348.6" y="107.05" font-size="8.9" text-anchor="middle" fill="#1a1a1a" transform="rotate(-90 348.6 107.05)" textLength="80.5" lengthAdjust="spacingAndGlyphs" stroke="#1a1a1a" stroke-width="0.3">% of NKp30 positives cells</text>
<text x="393" y="173.2" font-size="8" text-anchor="middle" fill="#222" transform="rotate(-45 393 173.2)">Nandi</text>
<text x="426.1" y="173.2" font-size="8" text-anchor="middle" fill="#222" transform="rotate(-45 426.1 173.2)">Kisumu</text>
<text x="458.8" y="170.6" font-size="8" text-anchor="middle" fill="#222" transform="rotate(-45 458.8 170.6)">BL</text>
<text x="465.6" y="177.6" font-size="8" text-anchor="middle" fill="#222" transform="rotate(-45 465.6 177.6)">Low EBV</text>
<text x="492" y="170.6" font-size="8" text-anchor="middle" fill="#222" transform="rotate(-45 492 170.6)">BL</text>
<text x="498.8" y="177.6" font-size="8" text-anchor="middle" fill="#222" transform="rotate(-45 498.8 177.6)">High EBV</text>
<text x="340.4" y="202.3" font-size="12" text-anchor="middle" fill="#000" font-weight="bold">D</text>
<text x="434.65" y="220" font-size="9.8" text-anchor="middle" fill="#111" textLength="139.9" lengthAdjust="spacing">NKp46<tspan font-size="7.3" dy="-2.8">+</tspan><tspan dy="2.8"> on CD56</tspan><tspan font-size="7.2" dy="-2.8">neg</tspan><tspan dy="2.8">CD16</tspan><tspan font-size="7.3" dy="-2.8">+</tspan><tspan dy="2.8"> NK</tspan></text>
<text x="434.9" y="231.8" font-size="9.8" text-anchor="middle" fill="#111">cells</text>
<line x1="370" y1="245" x2="370" y2="337.9" stroke="#000" stroke-width="1.2"/>
<line x1="367" y1="337.3" x2="370" y2="337.3" stroke="#000" stroke-width="1.1"/>
<text x="363.4" y="340.2" font-size="8.4" text-anchor="end" fill="#4a4a4a">0</text>
<line x1="367" y1="319.42" x2="370" y2="319.42" stroke="#000" stroke-width="1.1"/>
<text x="363.4" y="322.32" font-size="8.4" text-anchor="end" fill="#4a4a4a">20</text>
<line x1="367" y1="301.54" x2="370" y2="301.54" stroke="#000" stroke-width="1.1"/>
<text x="363.4" y="304.44" font-size="8.4" text-anchor="end" fill="#4a4a4a">40</text>
<line x1="367" y1="283.66" x2="370" y2="283.66" stroke="#000" stroke-width="1.1"/>
<text x="363.4" y="286.56" font-size="8.4" text-anchor="end" fill="#4a4a4a">60</text>
<line x1="367" y1="265.78" x2="370" y2="265.78" stroke="#000" stroke-width="1.1"/>
<text x="363.4" y="268.68" font-size="8.4" text-anchor="end" fill="#4a4a4a">80</text>
<line x1="367" y1="247.9" x2="370" y2="247.9" stroke="#000" stroke-width="1.1"/>
<text x="363.4" y="250.8" font-size="8.4" text-anchor="end" fill="#4a4a4a">100</text>
<line x1="369.4" y1="337.3" x2="504.7" y2="337.3" stroke="#000" stroke-width="1.2"/>
<line x1="391.6" y1="337.3" x2="391.6" y2="340.5" stroke="#000" stroke-width="1.1"/>
<line x1="422.2" y1="337.3" x2="422.2" y2="340.5" stroke="#000" stroke-width="1.1"/>
<line x1="453.1" y1="337.3" x2="453.1" y2="340.5" stroke="#000" stroke-width="1.1"/>
<line x1="483.4" y1="337.3" x2="483.4" y2="340.5" stroke="#000" stroke-width="1.1"/>
<line x1="392.5" y1="242.4" x2="482.8" y2="242.4" stroke="#2a2a2a" stroke-width="1.3"/>
<text x="437.65" y="242" font-size="7.3" text-anchor="middle" fill="#111" letter-spacing="-0.1">**</text>
<line x1="392.5" y1="251.6" x2="420.8" y2="251.6" stroke="#2a2a2a" stroke-width="1.3"/>
<text x="406.65" y="251.2" font-size="7.3" text-anchor="middle" fill="#111" letter-spacing="-0.1">*</text>
<line x1="455.4" y1="251.6" x2="482.8" y2="251.6" stroke="#2a2a2a" stroke-width="1.3"/>
<text x="469.1" y="251.2" font-size="7.3" text-anchor="middle" fill="#111" letter-spacing="-0.1">*</text>
<line x1="415.6" y1="260.3" x2="482.8" y2="260.3" stroke="#2a2a2a" stroke-width="1.3"/>
<text x="449.2" y="259.9" font-size="7.3" text-anchor="middle" fill="#111" letter-spacing="-0.1">*</text>
<line x1="391.6" y1="268.9" x2="391.6" y2="303.5" stroke="#2a2a2a" stroke-width="1.2"/>
<line x1="385.6" y1="268.9" x2="397.6" y2="268.9" stroke="#2a2a2a" stroke-width="1.2"/>
<line x1="385.6" y1="303.5" x2="397.6" y2="303.5" stroke="#2a2a2a" stroke-width="1.2"/>
<circle cx="389" cy="258.8" r="1.7" fill="#4a4a4a" stroke="#2a2a2a" stroke-width="0.6"/>
<circle cx="394.5" cy="258.3" r="1.7" fill="#4a4a4a" stroke="#2a2a2a" stroke-width="0.6"/>
<circle cx="391.6" cy="275.6" r="1.7" fill="#4a4a4a" stroke="#2a2a2a" stroke-width="0.6"/>
<circle cx="388.5" cy="284.8" r="1.7" fill="#4a4a4a" stroke="#2a2a2a" stroke-width="0.6"/>
<circle cx="394.5" cy="284.8" r="1.7" fill="#4a4a4a" stroke="#2a2a2a" stroke-width="0.6"/>
<circle cx="391.6" cy="292" r="1.7" fill="#4a4a4a" stroke="#2a2a2a" stroke-width="0.6"/>
<circle cx="385.5" cy="302" r="1.7" fill="#4a4a4a" stroke="#2a2a2a" stroke-width="0.6"/>
<circle cx="389.5" cy="302.5" r="1.7" fill="#4a4a4a" stroke="#2a2a2a" stroke-width="0.6"/>
<circle cx="393.5" cy="303" r="1.7" fill="#4a4a4a" stroke="#2a2a2a" stroke-width="0.6"/>
<circle cx="398" cy="302" r="1.7" fill="#4a4a4a" stroke="#2a2a2a" stroke-width="0.6"/>
<line x1="381" y1="286.8" x2="401.7" y2="286.8" stroke="#111" stroke-width="1.4"/>
<line x1="422.2" y1="290.6" x2="422.2" y2="319.4" stroke="#2a2a2a" stroke-width="1.2"/>
<line x1="416.2" y1="290.6" x2="428.2" y2="290.6" stroke="#2a2a2a" stroke-width="1.2"/>
<line x1="416.2" y1="319.4" x2="428.2" y2="319.4" stroke="#2a2a2a" stroke-width="1.2"/>
<polygon points="422.2,278.61 420.41,281.76 423.99,281.76" fill="#4a4a4a" stroke="#2a2a2a" stroke-width="0.6"/>
<polygon points="422.2,295.11 420.41,298.26 423.99,298.26" fill="#4a4a4a" stroke="#2a2a2a" stroke-width="0.6"/>
<polygon points="418.5,299.61 416.71,302.76 420.29,302.76" fill="#4a4a4a" stroke="#2a2a2a" stroke-width="0.6"/>
<polygon points="426.5,300.21 424.71,303.36 428.29,303.36" fill="#4a4a4a" stroke="#2a2a2a" stroke-width="0.6"/>
<polygon points="422.2,305.61 420.41,308.76 423.99,308.76" fill="#4a4a4a" stroke="#2a2a2a" stroke-width="0.6"/>
<polygon points="425.5,307.11 423.71,310.26 427.29,310.26" fill="#4a4a4a" stroke="#2a2a2a" stroke-width="0.6"/>
<polygon points="422.2,325.61 420.41,328.76 423.99,328.76" fill="#4a4a4a" stroke="#2a2a2a" stroke-width="0.6"/>
<line x1="412.1" y1="305.6" x2="432.3" y2="305.6" stroke="#111" stroke-width="1.4"/>
<line x1="453.1" y1="272.7" x2="453.1" y2="305.6" stroke="#2a2a2a" stroke-width="1.2"/>
<line x1="447.1" y1="272.7" x2="459.1" y2="272.7" stroke="#2a2a2a" stroke-width="1.2"/>
<line x1="447.1" y1="305.6" x2="459.1" y2="305.6" stroke="#2a2a2a" stroke-width="1.2"/>
<polygon points="447.3,280.03 449.17,281.9 447.3,283.77 445.43,281.9" fill="#4a4a4a" stroke="#2a2a2a" stroke-width="0.6"/>
<polygon points="458.3,280.03 460.17,281.9 458.3,283.77 456.43,281.9" fill="#4a4a4a" stroke="#2a2a2a" stroke-width="0.6"/>
<polygon points="451.5,274.63 453.37,276.5 451.5,278.37 449.63,276.5" fill="#4a4a4a" stroke="#2a2a2a" stroke-width="0.6"/>
<polygon points="455,274.63 456.87,276.5 455,278.37 453.13,276.5" fill="#4a4a4a" stroke="#2a2a2a" stroke-width="0.6"/>
<polygon points="453.1,303.73 454.97,305.6 453.1,307.47 451.23,305.6" fill="#4a4a4a" stroke="#2a2a2a" stroke-width="0.6"/>
<polygon points="453.1,315.23 454.97,317.1 453.1,318.97 451.23,317.1" fill="#4a4a4a" stroke="#2a2a2a" stroke-width="0.6"/>
<line x1="443" y1="289.1" x2="463.2" y2="289.1" stroke="#111" stroke-width="1.4"/>
<line x1="483.4" y1="316.5" x2="483.4" y2="328.1" stroke="#2a2a2a" stroke-width="1.2"/>
<line x1="477.4" y1="316.5" x2="489.4" y2="316.5" stroke="#2a2a2a" stroke-width="1.2"/>
<line x1="477.4" y1="328.1" x2="489.4" y2="328.1" stroke="#2a2a2a" stroke-width="1.2"/>
<polygon points="483.4,311.65 483.92,312.89 485.26,313 484.24,313.87 484.55,315.18 483.4,314.48 482.25,315.18 482.56,313.87 481.54,313 482.88,312.89" fill="#4a4a4a" stroke="#2a2a2a" stroke-width="0.4"/>
<polygon points="478.5,320.94 479.02,322.19 480.36,322.3 479.34,323.17 479.65,324.48 478.5,323.78 477.35,324.48 477.66,323.17 476.64,322.3 477.98,322.19" fill="#4a4a4a" stroke="#2a2a2a" stroke-width="0.4"/>
<polygon points="487.7,320.94 488.22,322.19 489.56,322.3 488.54,323.17 488.85,324.48 487.7,323.78 486.55,324.48 486.86,323.17 485.84,322.3 487.18,322.19" fill="#4a4a4a" stroke="#2a2a2a" stroke-width="0.4"/>
<polygon points="483.4,324.05 483.92,325.29 485.26,325.4 484.24,326.27 484.55,327.58 483.4,326.88 482.25,327.58 482.56,326.27 481.54,325.4 482.88,325.29" fill="#4a4a4a" stroke="#2a2a2a" stroke-width="0.4"/>
<line x1="473.3" y1="322.3" x2="493.4" y2="322.3" stroke="#111" stroke-width="1.4"/>
<text x="343.5" y="291.15" font-size="8.9" text-anchor="middle" fill="#1a1a1a" transform="rotate(-90 343.5 291.15)" textLength="80.5" lengthAdjust="spacingAndGlyphs" stroke="#1a1a1a" stroke-width="0.3">% of NKp46 positives cells</text>
<text x="392" y="354.9" font-size="8" text-anchor="middle" fill="#222" transform="rotate(-45 392 354.9)">Nandi</text>
<text x="422.6" y="354.9" font-size="8" text-anchor="middle" fill="#222" transform="rotate(-45 422.6 354.9)">Kisumu</text>
<text x="453.9" y="352.3" font-size="8" text-anchor="middle" fill="#222" transform="rotate(-45 453.9 352.3)">BL</text>
<text x="460.7" y="359.3" font-size="8" text-anchor="middle" fill="#222" transform="rotate(-45 460.7 359.3)">Low EBV</text>
<text x="484.2" y="352.3" font-size="8" text-anchor="middle" fill="#222" transform="rotate(-45 484.2 352.3)">BL</text>
<text x="491" y="359.3" font-size="8" text-anchor="middle" fill="#222" transform="rotate(-45 491 359.3)">High EBV</text>
<text x="339.85" y="386.5" font-size="12" text-anchor="middle" fill="#000" font-weight="bold">F</text>
<text x="438.7" y="401.2" font-size="9.8" text-anchor="middle" fill="#111" textLength="140.6" lengthAdjust="spacing">CD161<tspan font-size="7.3" dy="-2.8">+</tspan><tspan dy="2.8"> on CD56</tspan><tspan font-size="7.2" dy="-2.8">neg</tspan><tspan dy="2.8">CD16</tspan><tspan font-size="7.3" dy="-2.8">+</tspan><tspan dy="2.8"> NK</tspan></text>
<text x="439" y="412.3" font-size="9.8" text-anchor="middle" fill="#111">cells</text>
<line x1="370.8" y1="428.4" x2="370.8" y2="522.9" stroke="#000" stroke-width="1.2"/>
<line x1="367.8" y1="522.3" x2="370.8" y2="522.3" stroke="#000" stroke-width="1.1"/>
<text x="364.2" y="525.2" font-size="8.4" text-anchor="end" fill="#4a4a4a">0</text>
<line x1="367.8" y1="499.58" x2="370.8" y2="499.58" stroke="#000" stroke-width="1.1"/>
<text x="364.2" y="502.48" font-size="8.4" text-anchor="end" fill="#4a4a4a">20</text>
<line x1="367.8" y1="476.86" x2="370.8" y2="476.86" stroke="#000" stroke-width="1.1"/>
<text x="364.2" y="479.76" font-size="8.4" text-anchor="end" fill="#4a4a4a">40</text>
<line x1="367.8" y1="454.14" x2="370.8" y2="454.14" stroke="#000" stroke-width="1.1"/>
<text x="364.2" y="457.04" font-size="8.4" text-anchor="end" fill="#4a4a4a">60</text>
<line x1="367.8" y1="431.42" x2="370.8" y2="431.42" stroke="#000" stroke-width="1.1"/>
<text x="364.2" y="434.32" font-size="8.4" text-anchor="end" fill="#4a4a4a">80</text>
<line x1="370.2" y1="522.3" x2="507.5" y2="522.3" stroke="#000" stroke-width="1.2"/>
<line x1="392.3" y1="522.3" x2="392.3" y2="525.5" stroke="#000" stroke-width="1.1"/>
<line x1="423.6" y1="522.3" x2="423.6" y2="525.5" stroke="#000" stroke-width="1.1"/>
<line x1="455" y1="522.3" x2="455" y2="525.5" stroke="#000" stroke-width="1.1"/>
<line x1="486" y1="522.3" x2="486" y2="525.5" stroke="#000" stroke-width="1.1"/>
<line x1="392.2" y1="423.9" x2="489.7" y2="423.9" stroke="#2a2a2a" stroke-width="1.3"/>
<text x="440.95" y="423.5" font-size="7.3" text-anchor="middle" fill="#111" letter-spacing="-0.1">**</text>
<line x1="392.2" y1="433.3" x2="453" y2="433.3" stroke="#2a2a2a" stroke-width="1.3"/>
<text x="422.6" y="432.9" font-size="7.3" text-anchor="middle" fill="#111" letter-spacing="-0.1">**</text>
<line x1="462.8" y1="433.3" x2="489.7" y2="433.3" stroke="#2a2a2a" stroke-width="1.3"/>
<text x="476.25" y="432.9" font-size="7.3" text-anchor="middle" fill="#111" letter-spacing="-0.1">*</text>
<line x1="424.1" y1="442.4" x2="489.7" y2="442.4" stroke="#2a2a2a" stroke-width="1.3"/>
<text x="456.9" y="442" font-size="7.3" text-anchor="middle" fill="#111" letter-spacing="-0.1">*</text>
<line x1="392.3" y1="454.3" x2="392.3" y2="499" stroke="#2a2a2a" stroke-width="1.2"/>
<line x1="386.3" y1="454.3" x2="398.3" y2="454.3" stroke="#2a2a2a" stroke-width="1.2"/>
<line x1="386.3" y1="499" x2="398.3" y2="499" stroke="#2a2a2a" stroke-width="1.2"/>
<circle cx="392.2" cy="443.9" r="1.7" fill="#4a4a4a" stroke="#2a2a2a" stroke-width="0.6"/>
<circle cx="392.2" cy="450.8" r="1.7" fill="#4a4a4a" stroke="#2a2a2a" stroke-width="0.6"/>
<circle cx="392.2" cy="459.1" r="1.7" fill="#4a4a4a" stroke="#2a2a2a" stroke-width="0.6"/>
<circle cx="389.8" cy="485" r="1.7" fill="#4a4a4a" stroke="#2a2a2a" stroke-width="0.6"/>
<circle cx="395.2" cy="488" r="1.7" fill="#4a4a4a" stroke="#2a2a2a" stroke-width="0.6"/>
<circle cx="386.8" cy="494" r="1.7" fill="#4a4a4a" stroke="#2a2a2a" stroke-width="0.6"/>
<circle cx="397.3" cy="494.9" r="1.7" fill="#4a4a4a" stroke="#2a2a2a" stroke-width="0.6"/>
<circle cx="392.2" cy="498.5" r="1.7" fill="#4a4a4a" stroke="#2a2a2a" stroke-width="0.6"/>
<line x1="381.5" y1="477" x2="402.3" y2="477" stroke="#111" stroke-width="1.4"/>
<line x1="423.6" y1="461.2" x2="423.6" y2="514.8" stroke="#2a2a2a" stroke-width="1.2"/>
<line x1="417.6" y1="461.2" x2="429.6" y2="461.2" stroke="#2a2a2a" stroke-width="1.2"/>
<line x1="417.6" y1="514.8" x2="429.6" y2="514.8" stroke="#2a2a2a" stroke-width="1.2"/>
<polygon points="423.2,443.51 421.41,446.66 424.99,446.66" fill="#4a4a4a" stroke="#2a2a2a" stroke-width="0.6"/>
<polygon points="421.1,475.71 419.31,478.86 422.89,478.86" fill="#4a4a4a" stroke="#2a2a2a" stroke-width="0.6"/>
<polygon points="426.2,474.21 424.41,477.36 427.99,477.36" fill="#4a4a4a" stroke="#2a2a2a" stroke-width="0.6"/>
<polygon points="421.1,501.01 419.31,504.16 422.89,504.16" fill="#4a4a4a" stroke="#2a2a2a" stroke-width="0.6"/>
<polygon points="426.2,501.91 424.41,505.06 427.99,505.06" fill="#4a4a4a" stroke="#2a2a2a" stroke-width="0.6"/>
<polygon points="423.5,512.91 421.71,516.06 425.29,516.06" fill="#4a4a4a" stroke="#2a2a2a" stroke-width="0.6"/>
<polygon points="421.1,518.01 419.31,521.16 422.89,521.16" fill="#4a4a4a" stroke="#2a2a2a" stroke-width="0.6"/>
<line x1="413.6" y1="488" x2="433.9" y2="488" stroke="#111" stroke-width="1.4"/>
<line x1="455" y1="485" x2="455" y2="515.7" stroke="#2a2a2a" stroke-width="1.2"/>
<line x1="449" y1="485" x2="461" y2="485" stroke="#2a2a2a" stroke-width="1.2"/>
<line x1="449" y1="515.7" x2="461" y2="515.7" stroke="#2a2a2a" stroke-width="1.2"/>
<polygon points="454.8,466.23 456.67,468.1 454.8,469.97 452.93,468.1" fill="#4a4a4a" stroke="#2a2a2a" stroke-width="0.6"/>
<polygon points="454.8,496.63 456.67,498.5 454.8,500.37 452.93,498.5" fill="#4a4a4a" stroke="#2a2a2a" stroke-width="0.6"/>
<polygon points="450.9,503.13 452.77,505 450.9,506.87 449.03,505" fill="#4a4a4a" stroke="#2a2a2a" stroke-width="0.6"/>
<polygon points="449.5,508.13 451.37,510 449.5,511.87 447.63,510" fill="#4a4a4a" stroke="#2a2a2a" stroke-width="0.6"/>
<polygon points="455.5,509.13 457.37,511 455.5,512.87 453.63,511" fill="#4a4a4a" stroke="#2a2a2a" stroke-width="0.6"/>
<polygon points="460.5,508.13 462.37,510 460.5,511.87 458.63,510" fill="#4a4a4a" stroke="#2a2a2a" stroke-width="0.6"/>
<line x1="444.9" y1="500" x2="464.9" y2="500" stroke="#111" stroke-width="1.4"/>
<line x1="486" y1="508.9" x2="486" y2="522" stroke="#2a2a2a" stroke-width="1.2"/>
<line x1="480" y1="508.9" x2="492" y2="508.9" stroke="#2a2a2a" stroke-width="1.2"/>
<line x1="480" y1="522" x2="492" y2="522" stroke="#2a2a2a" stroke-width="1.2"/>
<polygon points="486.7,504.55 487.22,505.79 488.56,505.9 487.54,506.77 487.85,508.08 486.7,507.38 485.55,508.08 485.86,506.77 484.84,505.9 486.18,505.79" fill="#4a4a4a" stroke="#2a2a2a" stroke-width="0.4"/>
<polygon points="484.5,518.04 485.02,519.29 486.36,519.4 485.34,520.27 485.65,521.58 484.5,520.88 483.35,521.58 483.66,520.27 482.64,519.4 483.98,519.29" fill="#4a4a4a" stroke="#2a2a2a" stroke-width="0.4"/>
<polygon points="489,518.04 489.52,519.29 490.86,519.4 489.84,520.27 490.15,521.58 489,520.88 487.85,521.58 488.16,520.27 487.14,519.4 488.48,519.29" fill="#4a4a4a" stroke="#2a2a2a" stroke-width="0.4"/>
<line x1="476.2" y1="516.3" x2="496.5" y2="516.3" stroke="#111" stroke-width="1.4"/>
<text x="348.7" y="475.35" font-size="8.9" text-anchor="middle" fill="#1a1a1a" transform="rotate(-90 348.7 475.35)" textLength="80.5" lengthAdjust="spacingAndGlyphs" stroke="#1a1a1a" stroke-width="0.3">% of CD161 positives cells</text>
<text x="392.7" y="539.9" font-size="8" text-anchor="middle" fill="#222" transform="rotate(-45 392.7 539.9)">Nandi</text>
<text x="424" y="539.9" font-size="8" text-anchor="middle" fill="#222" transform="rotate(-45 424 539.9)">Kisumu</text>
<text x="455.8" y="537.3" font-size="8" text-anchor="middle" fill="#222" transform="rotate(-45 455.8 537.3)">BL</text>
<text x="462.6" y="544.3" font-size="8" text-anchor="middle" fill="#222" transform="rotate(-45 462.6 544.3)">Low EBV</text>
<text x="486.8" y="537.3" font-size="8" text-anchor="middle" fill="#222" transform="rotate(-45 486.8 537.3)">BL</text>
<text x="493.6" y="544.3" font-size="8" text-anchor="middle" fill="#222" transform="rotate(-45 493.6 544.3)">High EBV</text>
<rect x="0" y="0" width="520" height="1.2" fill="#000"/>
<rect x="0" y="0" width="1.2" height="567" fill="#000"/>
<rect x="518.4" y="0" width="1.6" height="567" fill="#000"/>
<rect x="0" y="565.4" width="520" height="1.6" fill="#000"/>
</svg>
</body></html>
